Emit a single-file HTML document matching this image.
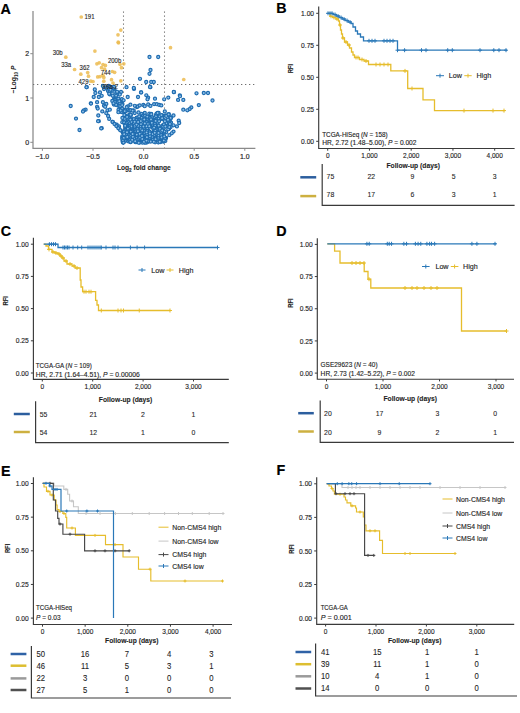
<!DOCTYPE html>
<html><head><meta charset="utf-8"><style>
html,body{margin:0;padding:0;background:#fff;width:520px;height:713px;overflow:hidden}
svg{display:block;font-family:"Liberation Sans", sans-serif}
</style></head><body>
<svg width="520" height="713" viewBox="0 0 520 713">
<rect width="520" height="713" fill="#fff"/>
<text x="0.60" y="13.80" font-size="14.3" text-anchor="start" font-weight="bold" fill="#000" stroke="#000" stroke-width="0.18" textLength="10.33" lengthAdjust="spacingAndGlyphs" >A</text>
<path d="M33,11 V148.3 H255.4" fill="none" stroke="#8a8a8a" stroke-width="1.25"/>
<line x1="30.3" y1="142.3" x2="33" y2="142.3" stroke="#8a8a8a" stroke-width="1" />
<text x="29.20" y="144.90" font-size="7.4" text-anchor="end" fill="#1e1e1e" stroke="#1e1e1e" stroke-width="0.18" textLength="3.91" lengthAdjust="spacingAndGlyphs" >0</text>
<line x1="30.3" y1="98.00000000000001" x2="33" y2="98.00000000000001" stroke="#8a8a8a" stroke-width="1" />
<text x="29.20" y="100.60" font-size="7.4" text-anchor="end" fill="#1e1e1e" stroke="#1e1e1e" stroke-width="0.18" textLength="3.91" lengthAdjust="spacingAndGlyphs" >1</text>
<line x1="30.3" y1="53.70000000000002" x2="33" y2="53.70000000000002" stroke="#8a8a8a" stroke-width="1" />
<text x="29.20" y="56.30" font-size="7.4" text-anchor="end" fill="#1e1e1e" stroke="#1e1e1e" stroke-width="0.18" textLength="3.91" lengthAdjust="spacingAndGlyphs" >2</text>
<line x1="42.39999999999999" y1="148.3" x2="42.39999999999999" y2="150.8" stroke="#8a8a8a" stroke-width="1" />
<text x="42.40" y="158.70" font-size="7.4" text-anchor="middle" fill="#1e1e1e" stroke="#1e1e1e" stroke-width="0.18" textLength="13.59" lengthAdjust="spacingAndGlyphs" >−1.0</text>
<line x1="93.0" y1="148.3" x2="93.0" y2="150.8" stroke="#8a8a8a" stroke-width="1" />
<text x="93.00" y="158.70" font-size="7.4" text-anchor="middle" fill="#1e1e1e" stroke="#1e1e1e" stroke-width="0.18" textLength="13.59" lengthAdjust="spacingAndGlyphs" >−0.5</text>
<line x1="143.6" y1="148.3" x2="143.6" y2="150.8" stroke="#8a8a8a" stroke-width="1" />
<text x="143.60" y="158.70" font-size="7.4" text-anchor="middle" fill="#1e1e1e" stroke="#1e1e1e" stroke-width="0.18" textLength="9.57" lengthAdjust="spacingAndGlyphs" >0.0</text>
<line x1="194.2" y1="148.3" x2="194.2" y2="150.8" stroke="#8a8a8a" stroke-width="1" />
<text x="194.20" y="158.70" font-size="7.4" text-anchor="middle" fill="#1e1e1e" stroke="#1e1e1e" stroke-width="0.18" textLength="9.57" lengthAdjust="spacingAndGlyphs" >0.5</text>
<line x1="244.8" y1="148.3" x2="244.8" y2="150.8" stroke="#8a8a8a" stroke-width="1" />
<text x="244.80" y="158.70" font-size="7.4" text-anchor="middle" fill="#1e1e1e" stroke="#1e1e1e" stroke-width="0.18" textLength="9.57" lengthAdjust="spacingAndGlyphs" >1.0</text>
<text font-size="8.1" font-weight="bold" fill="#1e1e1e" stroke="#1e1e1e" stroke-width="0.1" text-anchor="middle" x="143.8" y="170.1" textLength="53.8" lengthAdjust="spacingAndGlyphs">Log<tspan font-size="5.6" dy="1.7">2</tspan><tspan dy="-1.7"> fold change</tspan></text>
<text font-size="7.6" font-weight="bold" fill="#1e1e1e" text-anchor="middle" transform="translate(16.4,79.5) rotate(-90)" textLength="28" lengthAdjust="spacingAndGlyphs">−Log<tspan font-size="5.2" dy="1.6">10</tspan><tspan dy="-1.6"> </tspan><tspan font-style="italic">P</tspan></text>
<line x1="33" y1="84.5" x2="255" y2="84.5" stroke="#6f6f6f" stroke-width="1.05" stroke-dasharray="1.3,2.7"/>
<line x1="123.5" y1="11.5" x2="123.5" y2="148" stroke="#6f6f6f" stroke-width="1.05" stroke-dasharray="1.3,2.7"/>
<line x1="164.5" y1="11.5" x2="164.5" y2="148" stroke="#6f6f6f" stroke-width="1.05" stroke-dasharray="1.3,2.7"/>
<circle cx="81.25" cy="17" r="1.85" fill="#ECBB50" fill-opacity="0.85"/>
<circle cx="120.8" cy="30.1" r="1.85" fill="#ECBB50" fill-opacity="0.85"/>
<circle cx="118" cy="34.8" r="1.85" fill="#ECBB50" fill-opacity="0.85"/>
<circle cx="118.2" cy="42.2" r="1.85" fill="#ECBB50" fill-opacity="0.85"/>
<circle cx="170.5" cy="47.7" r="1.85" fill="#ECBB50" fill-opacity="0.85"/>
<circle cx="183.75" cy="79.5" r="1.85" fill="#ECBB50" fill-opacity="0.85"/>
<circle cx="118.5" cy="42.8" r="1.85" fill="#ECBB50" fill-opacity="0.85"/>
<circle cx="94.9" cy="51.1" r="1.85" fill="#ECBB50" fill-opacity="0.85"/>
<circle cx="65.8" cy="57.2" r="1.85" fill="#ECBB50" fill-opacity="0.85"/>
<circle cx="74.6" cy="69.5" r="1.85" fill="#ECBB50" fill-opacity="0.85"/>
<circle cx="80.8" cy="74.2" r="1.85" fill="#ECBB50" fill-opacity="0.85"/>
<circle cx="87.7" cy="72.6" r="1.85" fill="#ECBB50" fill-opacity="0.85"/>
<circle cx="88.5" cy="76.2" r="1.85" fill="#ECBB50" fill-opacity="0.85"/>
<circle cx="96.9" cy="63.8" r="1.85" fill="#ECBB50" fill-opacity="0.85"/>
<circle cx="99.2" cy="62.8" r="1.85" fill="#ECBB50" fill-opacity="0.85"/>
<circle cx="103" cy="64.6" r="1.85" fill="#ECBB50" fill-opacity="0.85"/>
<circle cx="105.4" cy="65.4" r="1.85" fill="#ECBB50" fill-opacity="0.85"/>
<circle cx="101.5" cy="67.7" r="1.85" fill="#ECBB50" fill-opacity="0.85"/>
<circle cx="104.6" cy="69.2" r="1.85" fill="#ECBB50" fill-opacity="0.85"/>
<circle cx="97.7" cy="76.9" r="1.85" fill="#ECBB50" fill-opacity="0.85"/>
<circle cx="100" cy="76.6" r="1.85" fill="#ECBB50" fill-opacity="0.85"/>
<circle cx="103" cy="75.4" r="1.85" fill="#ECBB50" fill-opacity="0.85"/>
<circle cx="103.8" cy="77.4" r="1.85" fill="#ECBB50" fill-opacity="0.85"/>
<circle cx="112.3" cy="71.5" r="1.85" fill="#ECBB50" fill-opacity="0.85"/>
<circle cx="114.6" cy="72.3" r="1.85" fill="#ECBB50" fill-opacity="0.85"/>
<circle cx="120" cy="64.3" r="1.85" fill="#ECBB50" fill-opacity="0.85"/>
<circle cx="121.5" cy="67.7" r="1.85" fill="#ECBB50" fill-opacity="0.85"/>
<circle cx="123.8" cy="63.8" r="1.85" fill="#ECBB50" fill-opacity="0.85"/>
<circle cx="90.8" cy="81.2" r="1.85" fill="#ECBB50" fill-opacity="0.85"/>
<circle cx="93" cy="81.5" r="1.85" fill="#ECBB50" fill-opacity="0.85"/>
<circle cx="103.8" cy="81.2" r="1.85" fill="#ECBB50" fill-opacity="0.85"/>
<circle cx="111.5" cy="79.7" r="1.85" fill="#ECBB50" fill-opacity="0.85"/>
<circle cx="113" cy="83" r="1.85" fill="#ECBB50" fill-opacity="0.85"/>
<circle cx="120.8" cy="80.8" r="1.85" fill="#ECBB50" fill-opacity="0.85"/>
<circle cx="86.7" cy="87.2" r="1.55" fill="#8fc0e8" stroke="#1f6cb0" stroke-width="1.2"/>
<circle cx="94.8" cy="89.5" r="1.55" fill="#8fc0e8" stroke="#1f6cb0" stroke-width="1.2"/>
<circle cx="95.4" cy="93.0" r="1.55" fill="#8fc0e8" stroke="#1f6cb0" stroke-width="1.2"/>
<circle cx="100.0" cy="92.4" r="1.55" fill="#8fc0e8" stroke="#1f6cb0" stroke-width="1.2"/>
<circle cx="93.7" cy="97.0" r="1.55" fill="#8fc0e8" stroke="#1f6cb0" stroke-width="1.2"/>
<circle cx="98.8" cy="97.0" r="1.55" fill="#8fc0e8" stroke="#1f6cb0" stroke-width="1.2"/>
<circle cx="101.7" cy="95.8" r="1.55" fill="#8fc0e8" stroke="#1f6cb0" stroke-width="1.2"/>
<circle cx="90.8" cy="103.3" r="1.55" fill="#8fc0e8" stroke="#1f6cb0" stroke-width="1.2"/>
<circle cx="97.1" cy="102.2" r="1.55" fill="#8fc0e8" stroke="#1f6cb0" stroke-width="1.2"/>
<circle cx="102.9" cy="102.2" r="1.55" fill="#8fc0e8" stroke="#1f6cb0" stroke-width="1.2"/>
<circle cx="106.3" cy="103.9" r="1.55" fill="#8fc0e8" stroke="#1f6cb0" stroke-width="1.2"/>
<circle cx="97.1" cy="106.8" r="1.55" fill="#8fc0e8" stroke="#1f6cb0" stroke-width="1.2"/>
<circle cx="97.7" cy="108.5" r="1.55" fill="#8fc0e8" stroke="#1f6cb0" stroke-width="1.2"/>
<circle cx="104.0" cy="105.7" r="1.55" fill="#8fc0e8" stroke="#1f6cb0" stroke-width="1.2"/>
<circle cx="105.2" cy="106.8" r="1.55" fill="#8fc0e8" stroke="#1f6cb0" stroke-width="1.2"/>
<circle cx="102.3" cy="111.4" r="1.55" fill="#8fc0e8" stroke="#1f6cb0" stroke-width="1.2"/>
<circle cx="107.5" cy="110.3" r="1.55" fill="#8fc0e8" stroke="#1f6cb0" stroke-width="1.2"/>
<circle cx="109.8" cy="109.7" r="1.55" fill="#8fc0e8" stroke="#1f6cb0" stroke-width="1.2"/>
<circle cx="106.3" cy="113.2" r="1.55" fill="#8fc0e8" stroke="#1f6cb0" stroke-width="1.2"/>
<circle cx="98.3" cy="115.5" r="1.55" fill="#8fc0e8" stroke="#1f6cb0" stroke-width="1.2"/>
<circle cx="108.1" cy="116.0" r="1.55" fill="#8fc0e8" stroke="#1f6cb0" stroke-width="1.2"/>
<circle cx="98.8" cy="121.2" r="1.55" fill="#8fc0e8" stroke="#1f6cb0" stroke-width="1.2"/>
<circle cx="109.2" cy="118.9" r="1.55" fill="#8fc0e8" stroke="#1f6cb0" stroke-width="1.2"/>
<circle cx="112.7" cy="121.8" r="1.55" fill="#8fc0e8" stroke="#1f6cb0" stroke-width="1.2"/>
<circle cx="116.7" cy="124.7" r="1.55" fill="#8fc0e8" stroke="#1f6cb0" stroke-width="1.2"/>
<circle cx="119.0" cy="126.4" r="1.55" fill="#8fc0e8" stroke="#1f6cb0" stroke-width="1.2"/>
<circle cx="119.6" cy="129.3" r="1.55" fill="#8fc0e8" stroke="#1f6cb0" stroke-width="1.2"/>
<circle cx="101.7" cy="128.2" r="1.55" fill="#8fc0e8" stroke="#1f6cb0" stroke-width="1.2"/>
<circle cx="102.9" cy="86.0" r="1.55" fill="#8fc0e8" stroke="#1f6cb0" stroke-width="1.2"/>
<circle cx="126.5" cy="87.2" r="1.55" fill="#8fc0e8" stroke="#1f6cb0" stroke-width="1.2"/>
<circle cx="134.0" cy="88.9" r="1.55" fill="#8fc0e8" stroke="#1f6cb0" stroke-width="1.2"/>
<circle cx="141.0" cy="92.4" r="1.55" fill="#8fc0e8" stroke="#1f6cb0" stroke-width="1.2"/>
<circle cx="127.7" cy="97.0" r="1.55" fill="#8fc0e8" stroke="#1f6cb0" stroke-width="1.2"/>
<circle cx="138.0" cy="97.0" r="1.55" fill="#8fc0e8" stroke="#1f6cb0" stroke-width="1.2"/>
<circle cx="85.6" cy="109.7" r="1.55" fill="#8fc0e8" stroke="#1f6cb0" stroke-width="1.2"/>
<circle cx="150.4" cy="87.2" r="1.55" fill="#8fc0e8" stroke="#1f6cb0" stroke-width="1.2"/>
<circle cx="141.2" cy="92.4" r="1.55" fill="#8fc0e8" stroke="#1f6cb0" stroke-width="1.2"/>
<circle cx="146.3" cy="95.3" r="1.55" fill="#8fc0e8" stroke="#1f6cb0" stroke-width="1.2"/>
<circle cx="148.1" cy="97.6" r="1.55" fill="#8fc0e8" stroke="#1f6cb0" stroke-width="1.2"/>
<circle cx="147.5" cy="99.3" r="1.55" fill="#8fc0e8" stroke="#1f6cb0" stroke-width="1.2"/>
<circle cx="155.0" cy="98.7" r="1.55" fill="#8fc0e8" stroke="#1f6cb0" stroke-width="1.2"/>
<circle cx="164.2" cy="99.3" r="1.55" fill="#8fc0e8" stroke="#1f6cb0" stroke-width="1.2"/>
<circle cx="168.3" cy="97.6" r="1.55" fill="#8fc0e8" stroke="#1f6cb0" stroke-width="1.2"/>
<circle cx="174.0" cy="92.2" r="1.55" fill="#8fc0e8" stroke="#1f6cb0" stroke-width="1.2"/>
<circle cx="179.8" cy="95.3" r="1.55" fill="#8fc0e8" stroke="#1f6cb0" stroke-width="1.2"/>
<circle cx="178.1" cy="99.9" r="1.55" fill="#8fc0e8" stroke="#1f6cb0" stroke-width="1.2"/>
<circle cx="183.3" cy="99.9" r="1.55" fill="#8fc0e8" stroke="#1f6cb0" stroke-width="1.2"/>
<circle cx="196.5" cy="93.3" r="1.55" fill="#8fc0e8" stroke="#1f6cb0" stroke-width="1.2"/>
<circle cx="203.8" cy="93.0" r="1.55" fill="#8fc0e8" stroke="#1f6cb0" stroke-width="1.2"/>
<circle cx="208.0" cy="93.0" r="1.55" fill="#8fc0e8" stroke="#1f6cb0" stroke-width="1.2"/>
<circle cx="212.5" cy="100.5" r="1.55" fill="#8fc0e8" stroke="#1f6cb0" stroke-width="1.2"/>
<circle cx="198.8" cy="105.1" r="1.55" fill="#8fc0e8" stroke="#1f6cb0" stroke-width="1.2"/>
<circle cx="191.3" cy="107.4" r="1.55" fill="#8fc0e8" stroke="#1f6cb0" stroke-width="1.2"/>
<circle cx="189.6" cy="109.1" r="1.55" fill="#8fc0e8" stroke="#1f6cb0" stroke-width="1.2"/>
<circle cx="187.3" cy="110.3" r="1.55" fill="#8fc0e8" stroke="#1f6cb0" stroke-width="1.2"/>
<circle cx="183.3" cy="109.7" r="1.55" fill="#8fc0e8" stroke="#1f6cb0" stroke-width="1.2"/>
<circle cx="164.8" cy="111.4" r="1.55" fill="#8fc0e8" stroke="#1f6cb0" stroke-width="1.2"/>
<circle cx="173.5" cy="115.5" r="1.55" fill="#8fc0e8" stroke="#1f6cb0" stroke-width="1.2"/>
<circle cx="178.7" cy="120.7" r="1.55" fill="#8fc0e8" stroke="#1f6cb0" stroke-width="1.2"/>
<circle cx="179.2" cy="123.0" r="1.55" fill="#8fc0e8" stroke="#1f6cb0" stroke-width="1.2"/>
<circle cx="176.9" cy="126.4" r="1.55" fill="#8fc0e8" stroke="#1f6cb0" stroke-width="1.2"/>
<circle cx="173.5" cy="125.3" r="1.55" fill="#8fc0e8" stroke="#1f6cb0" stroke-width="1.2"/>
<circle cx="170.6" cy="127.0" r="1.55" fill="#8fc0e8" stroke="#1f6cb0" stroke-width="1.2"/>
<circle cx="173.5" cy="131.6" r="1.55" fill="#8fc0e8" stroke="#1f6cb0" stroke-width="1.2"/>
<circle cx="171.7" cy="133.3" r="1.55" fill="#8fc0e8" stroke="#1f6cb0" stroke-width="1.2"/>
<circle cx="169.4" cy="135.1" r="1.55" fill="#8fc0e8" stroke="#1f6cb0" stroke-width="1.2"/>
<circle cx="70.7" cy="106.0" r="1.55" fill="#8fc0e8" stroke="#1f6cb0" stroke-width="1.2"/>
<circle cx="83.9" cy="110.3" r="1.55" fill="#8fc0e8" stroke="#1f6cb0" stroke-width="1.2"/>
<circle cx="83.0" cy="111.5" r="1.55" fill="#8fc0e8" stroke="#1f6cb0" stroke-width="1.2"/>
<circle cx="76.0" cy="118.6" r="1.55" fill="#8fc0e8" stroke="#1f6cb0" stroke-width="1.2"/>
<circle cx="79.5" cy="130.0" r="1.55" fill="#8fc0e8" stroke="#1f6cb0" stroke-width="1.2"/>
<circle cx="101.2" cy="128.4" r="1.55" fill="#8fc0e8" stroke="#1f6cb0" stroke-width="1.2"/>
<circle cx="98.1" cy="121.2" r="1.55" fill="#8fc0e8" stroke="#1f6cb0" stroke-width="1.2"/>
<circle cx="91.0" cy="103.6" r="1.55" fill="#8fc0e8" stroke="#1f6cb0" stroke-width="1.2"/>
<circle cx="86.5" cy="87.2" r="1.55" fill="#8fc0e8" stroke="#1f6cb0" stroke-width="1.2"/>
<circle cx="149.5" cy="57.0" r="1.55" fill="#8fc0e8" stroke="#1f6cb0" stroke-width="1.2"/>
<circle cx="158.2" cy="57.0" r="1.55" fill="#8fc0e8" stroke="#1f6cb0" stroke-width="1.2"/>
<circle cx="150.5" cy="70.0" r="1.55" fill="#8fc0e8" stroke="#1f6cb0" stroke-width="1.2"/>
<circle cx="149.5" cy="73.8" r="1.55" fill="#8fc0e8" stroke="#1f6cb0" stroke-width="1.2"/>
<circle cx="140.0" cy="78.8" r="1.55" fill="#8fc0e8" stroke="#1f6cb0" stroke-width="1.2"/>
<circle cx="146.2" cy="82.0" r="1.55" fill="#8fc0e8" stroke="#1f6cb0" stroke-width="1.2"/>
<circle cx="151.2" cy="82.0" r="1.55" fill="#8fc0e8" stroke="#1f6cb0" stroke-width="1.2"/>
<circle cx="153.8" cy="82.0" r="1.55" fill="#8fc0e8" stroke="#1f6cb0" stroke-width="1.2"/>
<circle cx="150.0" cy="87.0" r="1.55" fill="#8fc0e8" stroke="#1f6cb0" stroke-width="1.2"/>
<circle cx="133.8" cy="88.0" r="1.55" fill="#8fc0e8" stroke="#1f6cb0" stroke-width="1.2"/>
<circle cx="180.0" cy="96.2" r="1.55" fill="#8fc0e8" stroke="#1f6cb0" stroke-width="1.2"/>
<circle cx="173.8" cy="92.0" r="1.55" fill="#8fc0e8" stroke="#1f6cb0" stroke-width="1.2"/>
<circle cx="104.0" cy="89.0" r="1.55" fill="#8fc0e8" stroke="#1f6cb0" stroke-width="1.2"/>
<circle cx="108.0" cy="90.5" r="1.55" fill="#8fc0e8" stroke="#1f6cb0" stroke-width="1.2"/>
<circle cx="115.0" cy="91.0" r="1.55" fill="#8fc0e8" stroke="#1f6cb0" stroke-width="1.2"/>
<circle cx="121.0" cy="92.0" r="1.55" fill="#8fc0e8" stroke="#1f6cb0" stroke-width="1.2"/>
<circle cx="114.1" cy="98.1" r="1.55" fill="#8fc0e8" stroke="#1f6cb0" stroke-width="1.2"/>
<circle cx="115.1" cy="98.7" r="1.55" fill="#8fc0e8" stroke="#1f6cb0" stroke-width="1.2"/>
<circle cx="117.3" cy="103.3" r="1.55" fill="#8fc0e8" stroke="#1f6cb0" stroke-width="1.2"/>
<circle cx="117.8" cy="99.4" r="1.55" fill="#8fc0e8" stroke="#1f6cb0" stroke-width="1.2"/>
<circle cx="108.8" cy="85.8" r="1.55" fill="#8fc0e8" stroke="#1f6cb0" stroke-width="1.2"/>
<circle cx="109.4" cy="90.9" r="1.55" fill="#8fc0e8" stroke="#1f6cb0" stroke-width="1.2"/>
<circle cx="113.9" cy="104.5" r="1.55" fill="#8fc0e8" stroke="#1f6cb0" stroke-width="1.2"/>
<circle cx="115.3" cy="99.9" r="1.55" fill="#8fc0e8" stroke="#1f6cb0" stroke-width="1.2"/>
<circle cx="115.0" cy="100.4" r="1.55" fill="#8fc0e8" stroke="#1f6cb0" stroke-width="1.2"/>
<circle cx="114.2" cy="91.8" r="1.55" fill="#8fc0e8" stroke="#1f6cb0" stroke-width="1.2"/>
<circle cx="121.1" cy="101.4" r="1.55" fill="#8fc0e8" stroke="#1f6cb0" stroke-width="1.2"/>
<circle cx="111.7" cy="90.7" r="1.55" fill="#8fc0e8" stroke="#1f6cb0" stroke-width="1.2"/>
<circle cx="111.2" cy="87.1" r="1.55" fill="#8fc0e8" stroke="#1f6cb0" stroke-width="1.2"/>
<circle cx="119.8" cy="94.5" r="1.55" fill="#8fc0e8" stroke="#1f6cb0" stroke-width="1.2"/>
<circle cx="108.1" cy="91.0" r="1.55" fill="#8fc0e8" stroke="#1f6cb0" stroke-width="1.2"/>
<circle cx="107.8" cy="86.8" r="1.55" fill="#8fc0e8" stroke="#1f6cb0" stroke-width="1.2"/>
<circle cx="116.1" cy="95.6" r="1.55" fill="#8fc0e8" stroke="#1f6cb0" stroke-width="1.2"/>
<circle cx="109.8" cy="91.6" r="1.55" fill="#8fc0e8" stroke="#1f6cb0" stroke-width="1.2"/>
<circle cx="109.8" cy="94.4" r="1.55" fill="#8fc0e8" stroke="#1f6cb0" stroke-width="1.2"/>
<circle cx="121.4" cy="99.9" r="1.55" fill="#8fc0e8" stroke="#1f6cb0" stroke-width="1.2"/>
<circle cx="109.8" cy="91.3" r="1.55" fill="#8fc0e8" stroke="#1f6cb0" stroke-width="1.2"/>
<circle cx="111.3" cy="87.2" r="1.55" fill="#8fc0e8" stroke="#1f6cb0" stroke-width="1.2"/>
<circle cx="112.7" cy="95.7" r="1.55" fill="#8fc0e8" stroke="#1f6cb0" stroke-width="1.2"/>
<circle cx="116.3" cy="105.0" r="1.55" fill="#8fc0e8" stroke="#1f6cb0" stroke-width="1.2"/>
<circle cx="109.3" cy="89.0" r="1.55" fill="#8fc0e8" stroke="#1f6cb0" stroke-width="1.2"/>
<circle cx="122.4" cy="103.9" r="1.55" fill="#8fc0e8" stroke="#1f6cb0" stroke-width="1.2"/>
<circle cx="110.5" cy="89.8" r="1.55" fill="#8fc0e8" stroke="#1f6cb0" stroke-width="1.2"/>
<circle cx="119.3" cy="106.7" r="1.55" fill="#8fc0e8" stroke="#1f6cb0" stroke-width="1.2"/>
<circle cx="121.9" cy="99.1" r="1.55" fill="#8fc0e8" stroke="#1f6cb0" stroke-width="1.2"/>
<circle cx="113.6" cy="87.8" r="1.55" fill="#8fc0e8" stroke="#1f6cb0" stroke-width="1.2"/>
<circle cx="116.7" cy="92.1" r="1.55" fill="#8fc0e8" stroke="#1f6cb0" stroke-width="1.2"/>
<circle cx="116.1" cy="104.7" r="1.55" fill="#8fc0e8" stroke="#1f6cb0" stroke-width="1.2"/>
<circle cx="117.1" cy="91.8" r="1.55" fill="#8fc0e8" stroke="#1f6cb0" stroke-width="1.2"/>
<circle cx="114.0" cy="86.9" r="1.55" fill="#8fc0e8" stroke="#1f6cb0" stroke-width="1.2"/>
<circle cx="109.2" cy="93.8" r="1.55" fill="#8fc0e8" stroke="#1f6cb0" stroke-width="1.2"/>
<circle cx="123.6" cy="100.3" r="1.55" fill="#8fc0e8" stroke="#1f6cb0" stroke-width="1.2"/>
<circle cx="118.4" cy="98.6" r="1.55" fill="#8fc0e8" stroke="#1f6cb0" stroke-width="1.2"/>
<circle cx="108.5" cy="86.3" r="1.55" fill="#8fc0e8" stroke="#1f6cb0" stroke-width="1.2"/>
<circle cx="114.7" cy="101.9" r="1.55" fill="#8fc0e8" stroke="#1f6cb0" stroke-width="1.2"/>
<circle cx="119.3" cy="105.8" r="1.55" fill="#8fc0e8" stroke="#1f6cb0" stroke-width="1.2"/>
<circle cx="119.3" cy="101.3" r="1.55" fill="#8fc0e8" stroke="#1f6cb0" stroke-width="1.2"/>
<circle cx="120.3" cy="106.1" r="1.55" fill="#8fc0e8" stroke="#1f6cb0" stroke-width="1.2"/>
<circle cx="112.3" cy="100.9" r="1.55" fill="#8fc0e8" stroke="#1f6cb0" stroke-width="1.2"/>
<circle cx="122.2" cy="105.1" r="1.55" fill="#8fc0e8" stroke="#1f6cb0" stroke-width="1.2"/>
<circle cx="113.5" cy="103.3" r="1.55" fill="#8fc0e8" stroke="#1f6cb0" stroke-width="1.2"/>
<circle cx="126.2" cy="139.2" r="1.55" fill="#8fc0e8" stroke="#1f6cb0" stroke-width="1.2"/>
<circle cx="141.1" cy="138.7" r="1.55" fill="#8fc0e8" stroke="#1f6cb0" stroke-width="1.2"/>
<circle cx="162.6" cy="136.9" r="1.55" fill="#8fc0e8" stroke="#1f6cb0" stroke-width="1.2"/>
<circle cx="168.8" cy="114.1" r="1.55" fill="#8fc0e8" stroke="#1f6cb0" stroke-width="1.2"/>
<circle cx="141.6" cy="114.0" r="1.55" fill="#8fc0e8" stroke="#1f6cb0" stroke-width="1.2"/>
<circle cx="139.6" cy="128.0" r="1.55" fill="#8fc0e8" stroke="#1f6cb0" stroke-width="1.2"/>
<circle cx="160.4" cy="140.8" r="1.55" fill="#8fc0e8" stroke="#1f6cb0" stroke-width="1.2"/>
<circle cx="156.3" cy="135.7" r="1.55" fill="#8fc0e8" stroke="#1f6cb0" stroke-width="1.2"/>
<circle cx="134.5" cy="139.4" r="1.55" fill="#8fc0e8" stroke="#1f6cb0" stroke-width="1.2"/>
<circle cx="147.0" cy="133.7" r="1.55" fill="#8fc0e8" stroke="#1f6cb0" stroke-width="1.2"/>
<circle cx="156.4" cy="136.6" r="1.55" fill="#8fc0e8" stroke="#1f6cb0" stroke-width="1.2"/>
<circle cx="132.8" cy="132.2" r="1.55" fill="#8fc0e8" stroke="#1f6cb0" stroke-width="1.2"/>
<circle cx="145.5" cy="136.7" r="1.55" fill="#8fc0e8" stroke="#1f6cb0" stroke-width="1.2"/>
<circle cx="163.4" cy="141.7" r="1.55" fill="#8fc0e8" stroke="#1f6cb0" stroke-width="1.2"/>
<circle cx="139.6" cy="141.3" r="1.55" fill="#8fc0e8" stroke="#1f6cb0" stroke-width="1.2"/>
<circle cx="131.7" cy="121.9" r="1.55" fill="#8fc0e8" stroke="#1f6cb0" stroke-width="1.2"/>
<circle cx="143.0" cy="115.7" r="1.55" fill="#8fc0e8" stroke="#1f6cb0" stroke-width="1.2"/>
<circle cx="150.7" cy="140.0" r="1.55" fill="#8fc0e8" stroke="#1f6cb0" stroke-width="1.2"/>
<circle cx="122.7" cy="132.2" r="1.55" fill="#8fc0e8" stroke="#1f6cb0" stroke-width="1.2"/>
<circle cx="144.8" cy="113.0" r="1.55" fill="#8fc0e8" stroke="#1f6cb0" stroke-width="1.2"/>
<circle cx="145.9" cy="120.5" r="1.55" fill="#8fc0e8" stroke="#1f6cb0" stroke-width="1.2"/>
<circle cx="139.5" cy="124.2" r="1.55" fill="#8fc0e8" stroke="#1f6cb0" stroke-width="1.2"/>
<circle cx="145.9" cy="137.1" r="1.55" fill="#8fc0e8" stroke="#1f6cb0" stroke-width="1.2"/>
<circle cx="130.0" cy="132.1" r="1.55" fill="#8fc0e8" stroke="#1f6cb0" stroke-width="1.2"/>
<circle cx="122.3" cy="136.3" r="1.55" fill="#8fc0e8" stroke="#1f6cb0" stroke-width="1.2"/>
<circle cx="139.0" cy="130.4" r="1.55" fill="#8fc0e8" stroke="#1f6cb0" stroke-width="1.2"/>
<circle cx="144.6" cy="133.3" r="1.55" fill="#8fc0e8" stroke="#1f6cb0" stroke-width="1.2"/>
<circle cx="145.1" cy="125.7" r="1.55" fill="#8fc0e8" stroke="#1f6cb0" stroke-width="1.2"/>
<circle cx="140.4" cy="127.0" r="1.55" fill="#8fc0e8" stroke="#1f6cb0" stroke-width="1.2"/>
<circle cx="155.2" cy="136.8" r="1.55" fill="#8fc0e8" stroke="#1f6cb0" stroke-width="1.2"/>
<circle cx="141.7" cy="132.6" r="1.55" fill="#8fc0e8" stroke="#1f6cb0" stroke-width="1.2"/>
<circle cx="144.5" cy="142.3" r="1.55" fill="#8fc0e8" stroke="#1f6cb0" stroke-width="1.2"/>
<circle cx="131.1" cy="139.5" r="1.55" fill="#8fc0e8" stroke="#1f6cb0" stroke-width="1.2"/>
<circle cx="159.4" cy="135.6" r="1.55" fill="#8fc0e8" stroke="#1f6cb0" stroke-width="1.2"/>
<circle cx="165.9" cy="138.2" r="1.55" fill="#8fc0e8" stroke="#1f6cb0" stroke-width="1.2"/>
<circle cx="158.8" cy="133.6" r="1.55" fill="#8fc0e8" stroke="#1f6cb0" stroke-width="1.2"/>
<circle cx="135.6" cy="121.8" r="1.55" fill="#8fc0e8" stroke="#1f6cb0" stroke-width="1.2"/>
<circle cx="136.4" cy="128.5" r="1.55" fill="#8fc0e8" stroke="#1f6cb0" stroke-width="1.2"/>
<circle cx="129.6" cy="140.8" r="1.55" fill="#8fc0e8" stroke="#1f6cb0" stroke-width="1.2"/>
<circle cx="135.4" cy="129.4" r="1.55" fill="#8fc0e8" stroke="#1f6cb0" stroke-width="1.2"/>
<circle cx="150.5" cy="132.6" r="1.55" fill="#8fc0e8" stroke="#1f6cb0" stroke-width="1.2"/>
<circle cx="127.7" cy="118.0" r="1.55" fill="#8fc0e8" stroke="#1f6cb0" stroke-width="1.2"/>
<circle cx="130.7" cy="139.2" r="1.55" fill="#8fc0e8" stroke="#1f6cb0" stroke-width="1.2"/>
<circle cx="144.7" cy="141.7" r="1.55" fill="#8fc0e8" stroke="#1f6cb0" stroke-width="1.2"/>
<circle cx="149.6" cy="133.4" r="1.55" fill="#8fc0e8" stroke="#1f6cb0" stroke-width="1.2"/>
<circle cx="144.0" cy="127.4" r="1.55" fill="#8fc0e8" stroke="#1f6cb0" stroke-width="1.2"/>
<circle cx="149.6" cy="117.6" r="1.55" fill="#8fc0e8" stroke="#1f6cb0" stroke-width="1.2"/>
<circle cx="152.7" cy="125.4" r="1.55" fill="#8fc0e8" stroke="#1f6cb0" stroke-width="1.2"/>
<circle cx="156.1" cy="114.8" r="1.55" fill="#8fc0e8" stroke="#1f6cb0" stroke-width="1.2"/>
<circle cx="130.4" cy="104.7" r="1.55" fill="#8fc0e8" stroke="#1f6cb0" stroke-width="1.2"/>
<circle cx="161.5" cy="127.1" r="1.55" fill="#8fc0e8" stroke="#1f6cb0" stroke-width="1.2"/>
<circle cx="151.0" cy="121.2" r="1.55" fill="#8fc0e8" stroke="#1f6cb0" stroke-width="1.2"/>
<circle cx="139.9" cy="134.1" r="1.55" fill="#8fc0e8" stroke="#1f6cb0" stroke-width="1.2"/>
<circle cx="123.2" cy="138.7" r="1.55" fill="#8fc0e8" stroke="#1f6cb0" stroke-width="1.2"/>
<circle cx="151.1" cy="117.4" r="1.55" fill="#8fc0e8" stroke="#1f6cb0" stroke-width="1.2"/>
<circle cx="151.5" cy="133.1" r="1.55" fill="#8fc0e8" stroke="#1f6cb0" stroke-width="1.2"/>
<circle cx="130.6" cy="142.2" r="1.55" fill="#8fc0e8" stroke="#1f6cb0" stroke-width="1.2"/>
<circle cx="147.0" cy="128.2" r="1.55" fill="#8fc0e8" stroke="#1f6cb0" stroke-width="1.2"/>
<circle cx="151.0" cy="133.8" r="1.55" fill="#8fc0e8" stroke="#1f6cb0" stroke-width="1.2"/>
<circle cx="167.2" cy="120.1" r="1.55" fill="#8fc0e8" stroke="#1f6cb0" stroke-width="1.2"/>
<circle cx="122.3" cy="138.0" r="1.55" fill="#8fc0e8" stroke="#1f6cb0" stroke-width="1.2"/>
<circle cx="143.4" cy="130.4" r="1.55" fill="#8fc0e8" stroke="#1f6cb0" stroke-width="1.2"/>
<circle cx="128.6" cy="129.5" r="1.55" fill="#8fc0e8" stroke="#1f6cb0" stroke-width="1.2"/>
<circle cx="133.6" cy="132.0" r="1.55" fill="#8fc0e8" stroke="#1f6cb0" stroke-width="1.2"/>
<circle cx="156.6" cy="117.7" r="1.55" fill="#8fc0e8" stroke="#1f6cb0" stroke-width="1.2"/>
<circle cx="140.9" cy="135.1" r="1.55" fill="#8fc0e8" stroke="#1f6cb0" stroke-width="1.2"/>
<circle cx="136.7" cy="117.6" r="1.55" fill="#8fc0e8" stroke="#1f6cb0" stroke-width="1.2"/>
<circle cx="138.6" cy="118.5" r="1.55" fill="#8fc0e8" stroke="#1f6cb0" stroke-width="1.2"/>
<circle cx="147.7" cy="134.9" r="1.55" fill="#8fc0e8" stroke="#1f6cb0" stroke-width="1.2"/>
<circle cx="162.6" cy="125.5" r="1.55" fill="#8fc0e8" stroke="#1f6cb0" stroke-width="1.2"/>
<circle cx="158.4" cy="138.2" r="1.55" fill="#8fc0e8" stroke="#1f6cb0" stroke-width="1.2"/>
<circle cx="152.5" cy="135.2" r="1.55" fill="#8fc0e8" stroke="#1f6cb0" stroke-width="1.2"/>
<circle cx="146.8" cy="134.5" r="1.55" fill="#8fc0e8" stroke="#1f6cb0" stroke-width="1.2"/>
<circle cx="157.6" cy="129.0" r="1.55" fill="#8fc0e8" stroke="#1f6cb0" stroke-width="1.2"/>
<circle cx="129.0" cy="133.6" r="1.55" fill="#8fc0e8" stroke="#1f6cb0" stroke-width="1.2"/>
<circle cx="158.7" cy="118.8" r="1.55" fill="#8fc0e8" stroke="#1f6cb0" stroke-width="1.2"/>
<circle cx="155.6" cy="139.6" r="1.55" fill="#8fc0e8" stroke="#1f6cb0" stroke-width="1.2"/>
<circle cx="169.2" cy="128.6" r="1.55" fill="#8fc0e8" stroke="#1f6cb0" stroke-width="1.2"/>
<circle cx="155.7" cy="135.1" r="1.55" fill="#8fc0e8" stroke="#1f6cb0" stroke-width="1.2"/>
<circle cx="171.0" cy="118.0" r="1.55" fill="#8fc0e8" stroke="#1f6cb0" stroke-width="1.2"/>
<circle cx="128.1" cy="120.0" r="1.55" fill="#8fc0e8" stroke="#1f6cb0" stroke-width="1.2"/>
<circle cx="148.8" cy="139.4" r="1.55" fill="#8fc0e8" stroke="#1f6cb0" stroke-width="1.2"/>
<circle cx="122.9" cy="110.4" r="1.55" fill="#8fc0e8" stroke="#1f6cb0" stroke-width="1.2"/>
<circle cx="129.8" cy="131.7" r="1.55" fill="#8fc0e8" stroke="#1f6cb0" stroke-width="1.2"/>
<circle cx="129.2" cy="110.4" r="1.55" fill="#8fc0e8" stroke="#1f6cb0" stroke-width="1.2"/>
<circle cx="126.4" cy="133.3" r="1.55" fill="#8fc0e8" stroke="#1f6cb0" stroke-width="1.2"/>
<circle cx="146.9" cy="135.7" r="1.55" fill="#8fc0e8" stroke="#1f6cb0" stroke-width="1.2"/>
<circle cx="137.3" cy="134.9" r="1.55" fill="#8fc0e8" stroke="#1f6cb0" stroke-width="1.2"/>
<circle cx="125.6" cy="115.9" r="1.55" fill="#8fc0e8" stroke="#1f6cb0" stroke-width="1.2"/>
<circle cx="161.8" cy="136.8" r="1.55" fill="#8fc0e8" stroke="#1f6cb0" stroke-width="1.2"/>
<circle cx="122.3" cy="122.2" r="1.55" fill="#8fc0e8" stroke="#1f6cb0" stroke-width="1.2"/>
<circle cx="133.5" cy="134.6" r="1.55" fill="#8fc0e8" stroke="#1f6cb0" stroke-width="1.2"/>
<circle cx="146.6" cy="124.0" r="1.55" fill="#8fc0e8" stroke="#1f6cb0" stroke-width="1.2"/>
<circle cx="162.3" cy="115.5" r="1.55" fill="#8fc0e8" stroke="#1f6cb0" stroke-width="1.2"/>
<circle cx="137.6" cy="131.4" r="1.55" fill="#8fc0e8" stroke="#1f6cb0" stroke-width="1.2"/>
<circle cx="147.7" cy="121.3" r="1.55" fill="#8fc0e8" stroke="#1f6cb0" stroke-width="1.2"/>
<circle cx="128.3" cy="127.6" r="1.55" fill="#8fc0e8" stroke="#1f6cb0" stroke-width="1.2"/>
<circle cx="137.5" cy="124.6" r="1.55" fill="#8fc0e8" stroke="#1f6cb0" stroke-width="1.2"/>
<circle cx="135.0" cy="140.8" r="1.55" fill="#8fc0e8" stroke="#1f6cb0" stroke-width="1.2"/>
<circle cx="122.0" cy="108.6" r="1.55" fill="#8fc0e8" stroke="#1f6cb0" stroke-width="1.2"/>
<circle cx="153.9" cy="131.3" r="1.55" fill="#8fc0e8" stroke="#1f6cb0" stroke-width="1.2"/>
<circle cx="138.9" cy="136.5" r="1.55" fill="#8fc0e8" stroke="#1f6cb0" stroke-width="1.2"/>
<circle cx="121.9" cy="112.1" r="1.55" fill="#8fc0e8" stroke="#1f6cb0" stroke-width="1.2"/>
<circle cx="123.8" cy="119.3" r="1.55" fill="#8fc0e8" stroke="#1f6cb0" stroke-width="1.2"/>
<circle cx="155.1" cy="142.3" r="1.55" fill="#8fc0e8" stroke="#1f6cb0" stroke-width="1.2"/>
<circle cx="153.0" cy="127.3" r="1.55" fill="#8fc0e8" stroke="#1f6cb0" stroke-width="1.2"/>
<circle cx="160.0" cy="136.0" r="1.55" fill="#8fc0e8" stroke="#1f6cb0" stroke-width="1.2"/>
<circle cx="127.7" cy="140.8" r="1.55" fill="#8fc0e8" stroke="#1f6cb0" stroke-width="1.2"/>
<circle cx="127.8" cy="106.3" r="1.55" fill="#8fc0e8" stroke="#1f6cb0" stroke-width="1.2"/>
<circle cx="148.4" cy="130.9" r="1.55" fill="#8fc0e8" stroke="#1f6cb0" stroke-width="1.2"/>
<circle cx="123.8" cy="141.9" r="1.55" fill="#8fc0e8" stroke="#1f6cb0" stroke-width="1.2"/>
<circle cx="127.1" cy="124.9" r="1.55" fill="#8fc0e8" stroke="#1f6cb0" stroke-width="1.2"/>
<circle cx="168.2" cy="129.3" r="1.55" fill="#8fc0e8" stroke="#1f6cb0" stroke-width="1.2"/>
<circle cx="153.6" cy="132.5" r="1.55" fill="#8fc0e8" stroke="#1f6cb0" stroke-width="1.2"/>
<circle cx="149.3" cy="135.2" r="1.55" fill="#8fc0e8" stroke="#1f6cb0" stroke-width="1.2"/>
<circle cx="127.9" cy="121.7" r="1.55" fill="#8fc0e8" stroke="#1f6cb0" stroke-width="1.2"/>
<circle cx="138.1" cy="125.8" r="1.55" fill="#8fc0e8" stroke="#1f6cb0" stroke-width="1.2"/>
<circle cx="135.1" cy="128.7" r="1.55" fill="#8fc0e8" stroke="#1f6cb0" stroke-width="1.2"/>
<circle cx="169.3" cy="127.0" r="1.55" fill="#8fc0e8" stroke="#1f6cb0" stroke-width="1.2"/>
<circle cx="158.3" cy="133.1" r="1.55" fill="#8fc0e8" stroke="#1f6cb0" stroke-width="1.2"/>
<circle cx="163.6" cy="119.4" r="1.55" fill="#8fc0e8" stroke="#1f6cb0" stroke-width="1.2"/>
<circle cx="147.8" cy="139.2" r="1.55" fill="#8fc0e8" stroke="#1f6cb0" stroke-width="1.2"/>
<circle cx="166.1" cy="132.3" r="1.55" fill="#8fc0e8" stroke="#1f6cb0" stroke-width="1.2"/>
<circle cx="144.4" cy="118.9" r="1.55" fill="#8fc0e8" stroke="#1f6cb0" stroke-width="1.2"/>
<circle cx="154.9" cy="124.0" r="1.55" fill="#8fc0e8" stroke="#1f6cb0" stroke-width="1.2"/>
<circle cx="133.7" cy="118.8" r="1.55" fill="#8fc0e8" stroke="#1f6cb0" stroke-width="1.2"/>
<circle cx="129.1" cy="132.9" r="1.55" fill="#8fc0e8" stroke="#1f6cb0" stroke-width="1.2"/>
<circle cx="146.3" cy="141.0" r="1.55" fill="#8fc0e8" stroke="#1f6cb0" stroke-width="1.2"/>
<circle cx="130.3" cy="115.0" r="1.55" fill="#8fc0e8" stroke="#1f6cb0" stroke-width="1.2"/>
<circle cx="161.4" cy="118.9" r="1.55" fill="#8fc0e8" stroke="#1f6cb0" stroke-width="1.2"/>
<circle cx="170.3" cy="121.9" r="1.55" fill="#8fc0e8" stroke="#1f6cb0" stroke-width="1.2"/>
<circle cx="133.1" cy="139.9" r="1.55" fill="#8fc0e8" stroke="#1f6cb0" stroke-width="1.2"/>
<circle cx="127.7" cy="136.5" r="1.55" fill="#8fc0e8" stroke="#1f6cb0" stroke-width="1.2"/>
<circle cx="128.0" cy="128.3" r="1.55" fill="#8fc0e8" stroke="#1f6cb0" stroke-width="1.2"/>
<circle cx="122.8" cy="132.0" r="1.55" fill="#8fc0e8" stroke="#1f6cb0" stroke-width="1.2"/>
<circle cx="166.1" cy="137.8" r="1.55" fill="#8fc0e8" stroke="#1f6cb0" stroke-width="1.2"/>
<circle cx="127.7" cy="110.2" r="1.55" fill="#8fc0e8" stroke="#1f6cb0" stroke-width="1.2"/>
<circle cx="153.2" cy="134.6" r="1.55" fill="#8fc0e8" stroke="#1f6cb0" stroke-width="1.2"/>
<circle cx="153.1" cy="138.4" r="1.55" fill="#8fc0e8" stroke="#1f6cb0" stroke-width="1.2"/>
<circle cx="141.0" cy="124.1" r="1.55" fill="#8fc0e8" stroke="#1f6cb0" stroke-width="1.2"/>
<circle cx="147.3" cy="128.8" r="1.55" fill="#8fc0e8" stroke="#1f6cb0" stroke-width="1.2"/>
<circle cx="152.9" cy="134.3" r="1.55" fill="#8fc0e8" stroke="#1f6cb0" stroke-width="1.2"/>
<circle cx="144.6" cy="136.8" r="1.55" fill="#8fc0e8" stroke="#1f6cb0" stroke-width="1.2"/>
<circle cx="145.4" cy="141.1" r="1.55" fill="#8fc0e8" stroke="#1f6cb0" stroke-width="1.2"/>
<circle cx="148.6" cy="123.0" r="1.55" fill="#8fc0e8" stroke="#1f6cb0" stroke-width="1.2"/>
<circle cx="149.5" cy="131.6" r="1.55" fill="#8fc0e8" stroke="#1f6cb0" stroke-width="1.2"/>
<circle cx="144.0" cy="120.4" r="1.55" fill="#8fc0e8" stroke="#1f6cb0" stroke-width="1.2"/>
<circle cx="131.3" cy="134.9" r="1.55" fill="#8fc0e8" stroke="#1f6cb0" stroke-width="1.2"/>
<circle cx="166.4" cy="125.8" r="1.55" fill="#8fc0e8" stroke="#1f6cb0" stroke-width="1.2"/>
<circle cx="125.0" cy="115.4" r="1.55" fill="#8fc0e8" stroke="#1f6cb0" stroke-width="1.2"/>
<circle cx="134.1" cy="127.8" r="1.55" fill="#8fc0e8" stroke="#1f6cb0" stroke-width="1.2"/>
<circle cx="131.4" cy="126.5" r="1.55" fill="#8fc0e8" stroke="#1f6cb0" stroke-width="1.2"/>
<circle cx="162.3" cy="134.5" r="1.55" fill="#8fc0e8" stroke="#1f6cb0" stroke-width="1.2"/>
<circle cx="139.4" cy="117.6" r="1.55" fill="#8fc0e8" stroke="#1f6cb0" stroke-width="1.2"/>
<circle cx="124.7" cy="118.7" r="1.55" fill="#8fc0e8" stroke="#1f6cb0" stroke-width="1.2"/>
<circle cx="158.6" cy="132.4" r="1.55" fill="#8fc0e8" stroke="#1f6cb0" stroke-width="1.2"/>
<circle cx="130.8" cy="125.1" r="1.55" fill="#8fc0e8" stroke="#1f6cb0" stroke-width="1.2"/>
<circle cx="142.2" cy="140.3" r="1.55" fill="#8fc0e8" stroke="#1f6cb0" stroke-width="1.2"/>
<circle cx="135.4" cy="142.2" r="1.55" fill="#8fc0e8" stroke="#1f6cb0" stroke-width="1.2"/>
<circle cx="149.2" cy="138.5" r="1.55" fill="#8fc0e8" stroke="#1f6cb0" stroke-width="1.2"/>
<circle cx="138.4" cy="136.7" r="1.55" fill="#8fc0e8" stroke="#1f6cb0" stroke-width="1.2"/>
<circle cx="125.9" cy="111.1" r="1.55" fill="#8fc0e8" stroke="#1f6cb0" stroke-width="1.2"/>
<circle cx="154.7" cy="117.5" r="1.55" fill="#8fc0e8" stroke="#1f6cb0" stroke-width="1.2"/>
<circle cx="125.4" cy="140.5" r="1.55" fill="#8fc0e8" stroke="#1f6cb0" stroke-width="1.2"/>
<circle cx="138.5" cy="112.5" r="1.55" fill="#8fc0e8" stroke="#1f6cb0" stroke-width="1.2"/>
<circle cx="125.2" cy="126.8" r="1.55" fill="#8fc0e8" stroke="#1f6cb0" stroke-width="1.2"/>
<circle cx="124.4" cy="131.3" r="1.55" fill="#8fc0e8" stroke="#1f6cb0" stroke-width="1.2"/>
<circle cx="156.5" cy="129.6" r="1.55" fill="#8fc0e8" stroke="#1f6cb0" stroke-width="1.2"/>
<circle cx="129.3" cy="114.7" r="1.55" fill="#8fc0e8" stroke="#1f6cb0" stroke-width="1.2"/>
<circle cx="128.8" cy="130.6" r="1.55" fill="#8fc0e8" stroke="#1f6cb0" stroke-width="1.2"/>
<circle cx="129.8" cy="128.3" r="1.55" fill="#8fc0e8" stroke="#1f6cb0" stroke-width="1.2"/>
<circle cx="140.3" cy="118.7" r="1.55" fill="#8fc0e8" stroke="#1f6cb0" stroke-width="1.2"/>
<circle cx="147.1" cy="131.0" r="1.55" fill="#8fc0e8" stroke="#1f6cb0" stroke-width="1.2"/>
<circle cx="138.3" cy="117.6" r="1.55" fill="#8fc0e8" stroke="#1f6cb0" stroke-width="1.2"/>
<circle cx="144.0" cy="126.4" r="1.55" fill="#8fc0e8" stroke="#1f6cb0" stroke-width="1.2"/>
<circle cx="134.7" cy="113.1" r="1.55" fill="#8fc0e8" stroke="#1f6cb0" stroke-width="1.2"/>
<circle cx="135.9" cy="138.7" r="1.55" fill="#8fc0e8" stroke="#1f6cb0" stroke-width="1.2"/>
<circle cx="131.3" cy="129.7" r="1.55" fill="#8fc0e8" stroke="#1f6cb0" stroke-width="1.2"/>
<circle cx="159.0" cy="128.1" r="1.55" fill="#8fc0e8" stroke="#1f6cb0" stroke-width="1.2"/>
<circle cx="139.4" cy="119.6" r="1.55" fill="#8fc0e8" stroke="#1f6cb0" stroke-width="1.2"/>
<circle cx="162.2" cy="138.2" r="1.55" fill="#8fc0e8" stroke="#1f6cb0" stroke-width="1.2"/>
<circle cx="124.4" cy="123.3" r="1.55" fill="#8fc0e8" stroke="#1f6cb0" stroke-width="1.2"/>
<circle cx="136.6" cy="142.1" r="1.55" fill="#8fc0e8" stroke="#1f6cb0" stroke-width="1.2"/>
<circle cx="146.6" cy="118.8" r="1.55" fill="#8fc0e8" stroke="#1f6cb0" stroke-width="1.2"/>
<circle cx="143.9" cy="129.0" r="1.55" fill="#8fc0e8" stroke="#1f6cb0" stroke-width="1.2"/>
<circle cx="169.8" cy="116.3" r="1.55" fill="#8fc0e8" stroke="#1f6cb0" stroke-width="1.2"/>
<circle cx="130.6" cy="116.0" r="1.55" fill="#8fc0e8" stroke="#1f6cb0" stroke-width="1.2"/>
<circle cx="164.2" cy="137.8" r="1.55" fill="#8fc0e8" stroke="#1f6cb0" stroke-width="1.2"/>
<circle cx="138.4" cy="131.6" r="1.55" fill="#8fc0e8" stroke="#1f6cb0" stroke-width="1.2"/>
<circle cx="156.0" cy="116.1" r="1.55" fill="#8fc0e8" stroke="#1f6cb0" stroke-width="1.2"/>
<circle cx="158.4" cy="136.7" r="1.55" fill="#8fc0e8" stroke="#1f6cb0" stroke-width="1.2"/>
<circle cx="151.0" cy="136.2" r="1.55" fill="#8fc0e8" stroke="#1f6cb0" stroke-width="1.2"/>
<circle cx="129.6" cy="110.4" r="1.55" fill="#8fc0e8" stroke="#1f6cb0" stroke-width="1.2"/>
<circle cx="124.3" cy="130.5" r="1.55" fill="#8fc0e8" stroke="#1f6cb0" stroke-width="1.2"/>
<circle cx="146.6" cy="122.3" r="1.55" fill="#8fc0e8" stroke="#1f6cb0" stroke-width="1.2"/>
<circle cx="158.7" cy="142.2" r="1.55" fill="#8fc0e8" stroke="#1f6cb0" stroke-width="1.2"/>
<circle cx="125.0" cy="110.0" r="1.55" fill="#8fc0e8" stroke="#1f6cb0" stroke-width="1.2"/>
<circle cx="151.1" cy="114.0" r="1.55" fill="#8fc0e8" stroke="#1f6cb0" stroke-width="1.2"/>
<circle cx="143.3" cy="117.6" r="1.55" fill="#8fc0e8" stroke="#1f6cb0" stroke-width="1.2"/>
<circle cx="165.6" cy="115.4" r="1.55" fill="#8fc0e8" stroke="#1f6cb0" stroke-width="1.2"/>
<circle cx="128.0" cy="137.7" r="1.55" fill="#8fc0e8" stroke="#1f6cb0" stroke-width="1.2"/>
<circle cx="139.6" cy="135.3" r="1.55" fill="#8fc0e8" stroke="#1f6cb0" stroke-width="1.2"/>
<circle cx="152.8" cy="127.9" r="1.55" fill="#8fc0e8" stroke="#1f6cb0" stroke-width="1.2"/>
<circle cx="118.5" cy="109.8" r="1.55" fill="#8fc0e8" stroke="#1f6cb0" stroke-width="1.2"/>
<circle cx="133.9" cy="123.6" r="1.55" fill="#8fc0e8" stroke="#1f6cb0" stroke-width="1.2"/>
<circle cx="128.5" cy="141.4" r="1.55" fill="#8fc0e8" stroke="#1f6cb0" stroke-width="1.2"/>
<circle cx="145.7" cy="135.4" r="1.55" fill="#8fc0e8" stroke="#1f6cb0" stroke-width="1.2"/>
<circle cx="122.5" cy="141.0" r="1.55" fill="#8fc0e8" stroke="#1f6cb0" stroke-width="1.2"/>
<circle cx="129.4" cy="118.5" r="1.55" fill="#8fc0e8" stroke="#1f6cb0" stroke-width="1.2"/>
<circle cx="152.8" cy="135.4" r="1.55" fill="#8fc0e8" stroke="#1f6cb0" stroke-width="1.2"/>
<circle cx="151.8" cy="117.2" r="1.55" fill="#8fc0e8" stroke="#1f6cb0" stroke-width="1.2"/>
<circle cx="166.3" cy="115.9" r="1.55" fill="#8fc0e8" stroke="#1f6cb0" stroke-width="1.2"/>
<circle cx="135.2" cy="132.7" r="1.55" fill="#8fc0e8" stroke="#1f6cb0" stroke-width="1.2"/>
<circle cx="126.7" cy="107.2" r="1.55" fill="#8fc0e8" stroke="#1f6cb0" stroke-width="1.2"/>
<circle cx="136.1" cy="120.2" r="1.55" fill="#8fc0e8" stroke="#1f6cb0" stroke-width="1.2"/>
<circle cx="144.4" cy="119.1" r="1.55" fill="#8fc0e8" stroke="#1f6cb0" stroke-width="1.2"/>
<circle cx="146.3" cy="141.1" r="1.55" fill="#8fc0e8" stroke="#1f6cb0" stroke-width="1.2"/>
<circle cx="122.9" cy="142.5" r="1.55" fill="#8fc0e8" stroke="#1f6cb0" stroke-width="1.2"/>
<circle cx="139.2" cy="131.2" r="1.55" fill="#8fc0e8" stroke="#1f6cb0" stroke-width="1.2"/>
<circle cx="163.7" cy="128.1" r="1.55" fill="#8fc0e8" stroke="#1f6cb0" stroke-width="1.2"/>
<circle cx="162.6" cy="130.6" r="1.55" fill="#8fc0e8" stroke="#1f6cb0" stroke-width="1.2"/>
<circle cx="153.3" cy="119.8" r="1.55" fill="#8fc0e8" stroke="#1f6cb0" stroke-width="1.2"/>
<circle cx="129.5" cy="127.0" r="1.55" fill="#8fc0e8" stroke="#1f6cb0" stroke-width="1.2"/>
<circle cx="149.4" cy="140.3" r="1.55" fill="#8fc0e8" stroke="#1f6cb0" stroke-width="1.2"/>
<circle cx="142.5" cy="142.7" r="1.55" fill="#8fc0e8" stroke="#1f6cb0" stroke-width="1.2"/>
<circle cx="138.9" cy="137.7" r="1.55" fill="#8fc0e8" stroke="#1f6cb0" stroke-width="1.2"/>
<circle cx="171.0" cy="122.6" r="1.55" fill="#8fc0e8" stroke="#1f6cb0" stroke-width="1.2"/>
<circle cx="162.2" cy="134.9" r="1.55" fill="#8fc0e8" stroke="#1f6cb0" stroke-width="1.2"/>
<circle cx="164.4" cy="131.5" r="1.55" fill="#8fc0e8" stroke="#1f6cb0" stroke-width="1.2"/>
<circle cx="132.2" cy="128.7" r="1.55" fill="#8fc0e8" stroke="#1f6cb0" stroke-width="1.2"/>
<circle cx="147.2" cy="134.5" r="1.55" fill="#8fc0e8" stroke="#1f6cb0" stroke-width="1.2"/>
<circle cx="136.9" cy="107.0" r="1.55" fill="#8fc0e8" stroke="#1f6cb0" stroke-width="1.2"/>
<circle cx="135.8" cy="137.6" r="1.55" fill="#8fc0e8" stroke="#1f6cb0" stroke-width="1.2"/>
<circle cx="153.4" cy="120.2" r="1.55" fill="#8fc0e8" stroke="#1f6cb0" stroke-width="1.2"/>
<circle cx="123.3" cy="140.6" r="1.55" fill="#8fc0e8" stroke="#1f6cb0" stroke-width="1.2"/>
<circle cx="154.7" cy="132.5" r="1.55" fill="#8fc0e8" stroke="#1f6cb0" stroke-width="1.2"/>
<circle cx="133.9" cy="119.3" r="1.55" fill="#8fc0e8" stroke="#1f6cb0" stroke-width="1.2"/>
<circle cx="129.8" cy="126.2" r="1.55" fill="#8fc0e8" stroke="#1f6cb0" stroke-width="1.2"/>
<circle cx="138.1" cy="132.7" r="1.55" fill="#8fc0e8" stroke="#1f6cb0" stroke-width="1.2"/>
<circle cx="124.2" cy="138.8" r="1.55" fill="#8fc0e8" stroke="#1f6cb0" stroke-width="1.2"/>
<circle cx="163.3" cy="126.6" r="1.55" fill="#8fc0e8" stroke="#1f6cb0" stroke-width="1.2"/>
<circle cx="122.4" cy="138.9" r="1.55" fill="#8fc0e8" stroke="#1f6cb0" stroke-width="1.2"/>
<circle cx="151.5" cy="121.8" r="1.55" fill="#8fc0e8" stroke="#1f6cb0" stroke-width="1.2"/>
<circle cx="138.9" cy="129.2" r="1.55" fill="#8fc0e8" stroke="#1f6cb0" stroke-width="1.2"/>
<circle cx="126.1" cy="129.0" r="1.55" fill="#8fc0e8" stroke="#1f6cb0" stroke-width="1.2"/>
<circle cx="156.8" cy="134.0" r="1.55" fill="#8fc0e8" stroke="#1f6cb0" stroke-width="1.2"/>
<circle cx="163.9" cy="140.8" r="1.55" fill="#8fc0e8" stroke="#1f6cb0" stroke-width="1.2"/>
<circle cx="146.2" cy="124.3" r="1.55" fill="#8fc0e8" stroke="#1f6cb0" stroke-width="1.2"/>
<circle cx="130.4" cy="119.6" r="1.55" fill="#8fc0e8" stroke="#1f6cb0" stroke-width="1.2"/>
<circle cx="142.0" cy="137.0" r="1.55" fill="#8fc0e8" stroke="#1f6cb0" stroke-width="1.2"/>
<circle cx="169.9" cy="124.0" r="1.55" fill="#8fc0e8" stroke="#1f6cb0" stroke-width="1.2"/>
<circle cx="125.4" cy="135.7" r="1.55" fill="#8fc0e8" stroke="#1f6cb0" stroke-width="1.2"/>
<circle cx="152.0" cy="136.9" r="1.55" fill="#8fc0e8" stroke="#1f6cb0" stroke-width="1.2"/>
<circle cx="165.3" cy="140.9" r="1.55" fill="#8fc0e8" stroke="#1f6cb0" stroke-width="1.2"/>
<circle cx="144.3" cy="139.2" r="1.55" fill="#8fc0e8" stroke="#1f6cb0" stroke-width="1.2"/>
<circle cx="133.3" cy="132.6" r="1.55" fill="#8fc0e8" stroke="#1f6cb0" stroke-width="1.2"/>
<circle cx="136.5" cy="120.2" r="1.55" fill="#8fc0e8" stroke="#1f6cb0" stroke-width="1.2"/>
<circle cx="146.8" cy="119.0" r="1.55" fill="#8fc0e8" stroke="#1f6cb0" stroke-width="1.2"/>
<circle cx="122.4" cy="117.9" r="1.55" fill="#8fc0e8" stroke="#1f6cb0" stroke-width="1.2"/>
<circle cx="157.8" cy="122.5" r="1.55" fill="#8fc0e8" stroke="#1f6cb0" stroke-width="1.2"/>
<circle cx="139.2" cy="141.7" r="1.55" fill="#8fc0e8" stroke="#1f6cb0" stroke-width="1.2"/>
<circle cx="149.3" cy="141.4" r="1.55" fill="#8fc0e8" stroke="#1f6cb0" stroke-width="1.2"/>
<circle cx="149.6" cy="117.8" r="1.55" fill="#8fc0e8" stroke="#1f6cb0" stroke-width="1.2"/>
<circle cx="150.2" cy="126.6" r="1.55" fill="#8fc0e8" stroke="#1f6cb0" stroke-width="1.2"/>
<circle cx="140.2" cy="137.4" r="1.55" fill="#8fc0e8" stroke="#1f6cb0" stroke-width="1.2"/>
<circle cx="132.6" cy="130.2" r="1.55" fill="#8fc0e8" stroke="#1f6cb0" stroke-width="1.2"/>
<circle cx="160.0" cy="128.7" r="1.55" fill="#8fc0e8" stroke="#1f6cb0" stroke-width="1.2"/>
<circle cx="141.0" cy="133.1" r="1.55" fill="#8fc0e8" stroke="#1f6cb0" stroke-width="1.2"/>
<circle cx="141.4" cy="120.5" r="1.55" fill="#8fc0e8" stroke="#1f6cb0" stroke-width="1.2"/>
<circle cx="134.4" cy="132.4" r="1.55" fill="#8fc0e8" stroke="#1f6cb0" stroke-width="1.2"/>
<circle cx="123.3" cy="136.4" r="1.55" fill="#8fc0e8" stroke="#1f6cb0" stroke-width="1.2"/>
<circle cx="147.5" cy="139.9" r="1.55" fill="#8fc0e8" stroke="#1f6cb0" stroke-width="1.2"/>
<circle cx="123.7" cy="137.9" r="1.55" fill="#8fc0e8" stroke="#1f6cb0" stroke-width="1.2"/>
<circle cx="143.9" cy="130.6" r="1.55" fill="#8fc0e8" stroke="#1f6cb0" stroke-width="1.2"/>
<circle cx="149.2" cy="123.8" r="1.55" fill="#8fc0e8" stroke="#1f6cb0" stroke-width="1.2"/>
<circle cx="148.3" cy="136.7" r="1.55" fill="#8fc0e8" stroke="#1f6cb0" stroke-width="1.2"/>
<circle cx="134.9" cy="130.9" r="1.55" fill="#8fc0e8" stroke="#1f6cb0" stroke-width="1.2"/>
<circle cx="131.2" cy="132.2" r="1.55" fill="#8fc0e8" stroke="#1f6cb0" stroke-width="1.2"/>
<circle cx="137.6" cy="131.7" r="1.55" fill="#8fc0e8" stroke="#1f6cb0" stroke-width="1.2"/>
<circle cx="129.6" cy="133.1" r="1.55" fill="#8fc0e8" stroke="#1f6cb0" stroke-width="1.2"/>
<circle cx="133.7" cy="136.9" r="1.55" fill="#8fc0e8" stroke="#1f6cb0" stroke-width="1.2"/>
<circle cx="155.1" cy="125.7" r="1.55" fill="#8fc0e8" stroke="#1f6cb0" stroke-width="1.2"/>
<circle cx="158.7" cy="135.2" r="1.55" fill="#8fc0e8" stroke="#1f6cb0" stroke-width="1.2"/>
<circle cx="123.6" cy="133.6" r="1.55" fill="#8fc0e8" stroke="#1f6cb0" stroke-width="1.2"/>
<circle cx="156.6" cy="113.6" r="1.55" fill="#8fc0e8" stroke="#1f6cb0" stroke-width="1.2"/>
<circle cx="130.8" cy="114.7" r="1.55" fill="#8fc0e8" stroke="#1f6cb0" stroke-width="1.2"/>
<circle cx="124.2" cy="122.4" r="1.55" fill="#8fc0e8" stroke="#1f6cb0" stroke-width="1.2"/>
<circle cx="163.8" cy="137.2" r="1.55" fill="#8fc0e8" stroke="#1f6cb0" stroke-width="1.2"/>
<circle cx="146.6" cy="132.4" r="1.55" fill="#8fc0e8" stroke="#1f6cb0" stroke-width="1.2"/>
<circle cx="153.0" cy="139.8" r="1.55" fill="#8fc0e8" stroke="#1f6cb0" stroke-width="1.2"/>
<circle cx="136.8" cy="134.5" r="1.55" fill="#8fc0e8" stroke="#1f6cb0" stroke-width="1.2"/>
<circle cx="123.0" cy="140.6" r="1.55" fill="#8fc0e8" stroke="#1f6cb0" stroke-width="1.2"/>
<circle cx="123.5" cy="142.6" r="1.55" fill="#8fc0e8" stroke="#1f6cb0" stroke-width="1.2"/>
<circle cx="163.6" cy="134.4" r="1.55" fill="#8fc0e8" stroke="#1f6cb0" stroke-width="1.2"/>
<circle cx="127.1" cy="124.1" r="1.55" fill="#8fc0e8" stroke="#1f6cb0" stroke-width="1.2"/>
<circle cx="147.4" cy="141.9" r="1.55" fill="#8fc0e8" stroke="#1f6cb0" stroke-width="1.2"/>
<circle cx="124.4" cy="115.0" r="1.55" fill="#8fc0e8" stroke="#1f6cb0" stroke-width="1.2"/>
<circle cx="163.8" cy="140.4" r="1.55" fill="#8fc0e8" stroke="#1f6cb0" stroke-width="1.2"/>
<circle cx="162.2" cy="130.5" r="1.55" fill="#8fc0e8" stroke="#1f6cb0" stroke-width="1.2"/>
<circle cx="160.3" cy="142.0" r="1.55" fill="#8fc0e8" stroke="#1f6cb0" stroke-width="1.2"/>
<circle cx="139.2" cy="116.4" r="1.55" fill="#8fc0e8" stroke="#1f6cb0" stroke-width="1.2"/>
<circle cx="131.3" cy="126.4" r="1.55" fill="#8fc0e8" stroke="#1f6cb0" stroke-width="1.2"/>
<circle cx="135.3" cy="130.0" r="1.55" fill="#8fc0e8" stroke="#1f6cb0" stroke-width="1.2"/>
<circle cx="129.8" cy="138.3" r="1.55" fill="#8fc0e8" stroke="#1f6cb0" stroke-width="1.2"/>
<circle cx="159.7" cy="116.3" r="1.55" fill="#8fc0e8" stroke="#1f6cb0" stroke-width="1.2"/>
<circle cx="130.9" cy="138.1" r="1.55" fill="#8fc0e8" stroke="#1f6cb0" stroke-width="1.2"/>
<circle cx="129.7" cy="115.1" r="1.55" fill="#8fc0e8" stroke="#1f6cb0" stroke-width="1.2"/>
<circle cx="158.6" cy="112.8" r="1.55" fill="#8fc0e8" stroke="#1f6cb0" stroke-width="1.2"/>
<circle cx="139.6" cy="142.6" r="1.55" fill="#8fc0e8" stroke="#1f6cb0" stroke-width="1.2"/>
<circle cx="141.7" cy="117.9" r="1.55" fill="#8fc0e8" stroke="#1f6cb0" stroke-width="1.2"/>
<circle cx="131.9" cy="140.6" r="1.55" fill="#8fc0e8" stroke="#1f6cb0" stroke-width="1.2"/>
<circle cx="127.1" cy="116.9" r="1.55" fill="#8fc0e8" stroke="#1f6cb0" stroke-width="1.2"/>
<circle cx="133.7" cy="110.3" r="1.55" fill="#8fc0e8" stroke="#1f6cb0" stroke-width="1.2"/>
<circle cx="121.4" cy="111.9" r="1.55" fill="#8fc0e8" stroke="#1f6cb0" stroke-width="1.2"/>
<circle cx="135.0" cy="125.7" r="1.55" fill="#8fc0e8" stroke="#1f6cb0" stroke-width="1.2"/>
<circle cx="160.2" cy="141.9" r="1.55" fill="#8fc0e8" stroke="#1f6cb0" stroke-width="1.2"/>
<circle cx="149.9" cy="136.8" r="1.55" fill="#8fc0e8" stroke="#1f6cb0" stroke-width="1.2"/>
<circle cx="129.0" cy="135.0" r="1.55" fill="#8fc0e8" stroke="#1f6cb0" stroke-width="1.2"/>
<circle cx="152.6" cy="121.6" r="1.55" fill="#8fc0e8" stroke="#1f6cb0" stroke-width="1.2"/>
<circle cx="129.7" cy="140.4" r="1.55" fill="#8fc0e8" stroke="#1f6cb0" stroke-width="1.2"/>
<circle cx="144.7" cy="142.4" r="1.55" fill="#8fc0e8" stroke="#1f6cb0" stroke-width="1.2"/>
<circle cx="126.3" cy="131.9" r="1.55" fill="#8fc0e8" stroke="#1f6cb0" stroke-width="1.2"/>
<circle cx="168.6" cy="114.4" r="1.55" fill="#8fc0e8" stroke="#1f6cb0" stroke-width="1.2"/>
<circle cx="144.1" cy="139.9" r="1.55" fill="#8fc0e8" stroke="#1f6cb0" stroke-width="1.2"/>
<circle cx="151.4" cy="121.5" r="1.55" fill="#8fc0e8" stroke="#1f6cb0" stroke-width="1.2"/>
<circle cx="162.2" cy="134.9" r="1.55" fill="#8fc0e8" stroke="#1f6cb0" stroke-width="1.2"/>
<circle cx="166.2" cy="123.2" r="1.55" fill="#8fc0e8" stroke="#1f6cb0" stroke-width="1.2"/>
<circle cx="147.3" cy="140.8" r="1.55" fill="#8fc0e8" stroke="#1f6cb0" stroke-width="1.2"/>
<circle cx="144.4" cy="116.7" r="1.55" fill="#8fc0e8" stroke="#1f6cb0" stroke-width="1.2"/>
<circle cx="128.7" cy="136.4" r="1.55" fill="#8fc0e8" stroke="#1f6cb0" stroke-width="1.2"/>
<circle cx="154.3" cy="134.9" r="1.55" fill="#8fc0e8" stroke="#1f6cb0" stroke-width="1.2"/>
<circle cx="161.1" cy="135.1" r="1.55" fill="#8fc0e8" stroke="#1f6cb0" stroke-width="1.2"/>
<circle cx="161.4" cy="115.1" r="1.55" fill="#8fc0e8" stroke="#1f6cb0" stroke-width="1.2"/>
<circle cx="158.3" cy="142.4" r="1.55" fill="#8fc0e8" stroke="#1f6cb0" stroke-width="1.2"/>
<circle cx="123.8" cy="132.1" r="1.55" fill="#8fc0e8" stroke="#1f6cb0" stroke-width="1.2"/>
<circle cx="151.8" cy="122.7" r="1.55" fill="#8fc0e8" stroke="#1f6cb0" stroke-width="1.2"/>
<circle cx="125.8" cy="134.8" r="1.55" fill="#8fc0e8" stroke="#1f6cb0" stroke-width="1.2"/>
<circle cx="152.6" cy="134.0" r="1.55" fill="#8fc0e8" stroke="#1f6cb0" stroke-width="1.2"/>
<circle cx="145.1" cy="115.6" r="1.55" fill="#8fc0e8" stroke="#1f6cb0" stroke-width="1.2"/>
<circle cx="150.8" cy="141.5" r="1.55" fill="#8fc0e8" stroke="#1f6cb0" stroke-width="1.2"/>
<circle cx="164.0" cy="124.4" r="1.55" fill="#8fc0e8" stroke="#1f6cb0" stroke-width="1.2"/>
<circle cx="157.6" cy="113.0" r="1.55" fill="#8fc0e8" stroke="#1f6cb0" stroke-width="1.2"/>
<circle cx="134.8" cy="105.8" r="1.55" fill="#8fc0e8" stroke="#1f6cb0" stroke-width="1.2"/>
<circle cx="151.9" cy="119.6" r="1.55" fill="#8fc0e8" stroke="#1f6cb0" stroke-width="1.2"/>
<circle cx="125.2" cy="125.1" r="1.55" fill="#8fc0e8" stroke="#1f6cb0" stroke-width="1.2"/>
<circle cx="156.2" cy="132.1" r="1.55" fill="#8fc0e8" stroke="#1f6cb0" stroke-width="1.2"/>
<circle cx="141.9" cy="120.3" r="1.55" fill="#8fc0e8" stroke="#1f6cb0" stroke-width="1.2"/>
<circle cx="142.9" cy="141.2" r="1.55" fill="#8fc0e8" stroke="#1f6cb0" stroke-width="1.2"/>
<circle cx="131.7" cy="130.8" r="1.55" fill="#8fc0e8" stroke="#1f6cb0" stroke-width="1.2"/>
<circle cx="154.1" cy="127.6" r="1.55" fill="#8fc0e8" stroke="#1f6cb0" stroke-width="1.2"/>
<circle cx="138.3" cy="121.7" r="1.55" fill="#8fc0e8" stroke="#1f6cb0" stroke-width="1.2"/>
<circle cx="143.5" cy="126.5" r="1.55" fill="#8fc0e8" stroke="#1f6cb0" stroke-width="1.2"/>
<circle cx="144.7" cy="119.4" r="1.55" fill="#8fc0e8" stroke="#1f6cb0" stroke-width="1.2"/>
<circle cx="155.6" cy="120.9" r="1.55" fill="#8fc0e8" stroke="#1f6cb0" stroke-width="1.2"/>
<circle cx="140.8" cy="121.1" r="1.55" fill="#8fc0e8" stroke="#1f6cb0" stroke-width="1.2"/>
<circle cx="151.0" cy="119.4" r="1.55" fill="#8fc0e8" stroke="#1f6cb0" stroke-width="1.2"/>
<circle cx="159.1" cy="121.2" r="1.55" fill="#8fc0e8" stroke="#1f6cb0" stroke-width="1.2"/>
<circle cx="164.9" cy="121.2" r="1.55" fill="#8fc0e8" stroke="#1f6cb0" stroke-width="1.2"/>
<circle cx="140.7" cy="129.1" r="1.55" fill="#8fc0e8" stroke="#1f6cb0" stroke-width="1.2"/>
<circle cx="135.6" cy="131.5" r="1.55" fill="#8fc0e8" stroke="#1f6cb0" stroke-width="1.2"/>
<circle cx="139.7" cy="133.7" r="1.55" fill="#8fc0e8" stroke="#1f6cb0" stroke-width="1.2"/>
<circle cx="138.7" cy="142.7" r="1.55" fill="#8fc0e8" stroke="#1f6cb0" stroke-width="1.2"/>
<circle cx="158.5" cy="132.9" r="1.55" fill="#8fc0e8" stroke="#1f6cb0" stroke-width="1.2"/>
<circle cx="130.7" cy="131.2" r="1.55" fill="#8fc0e8" stroke="#1f6cb0" stroke-width="1.2"/>
<circle cx="146.7" cy="142.5" r="1.55" fill="#8fc0e8" stroke="#1f6cb0" stroke-width="1.2"/>
<circle cx="147.9" cy="124.1" r="1.55" fill="#8fc0e8" stroke="#1f6cb0" stroke-width="1.2"/>
<circle cx="148.0" cy="141.1" r="1.55" fill="#8fc0e8" stroke="#1f6cb0" stroke-width="1.2"/>
<circle cx="162.1" cy="118.2" r="1.55" fill="#8fc0e8" stroke="#1f6cb0" stroke-width="1.2"/>
<circle cx="136.5" cy="124.5" r="1.55" fill="#8fc0e8" stroke="#1f6cb0" stroke-width="1.2"/>
<circle cx="137.4" cy="129.3" r="1.55" fill="#8fc0e8" stroke="#1f6cb0" stroke-width="1.2"/>
<circle cx="130.6" cy="110.1" r="1.55" fill="#8fc0e8" stroke="#1f6cb0" stroke-width="1.2"/>
<circle cx="161.6" cy="137.4" r="1.55" fill="#8fc0e8" stroke="#1f6cb0" stroke-width="1.2"/>
<circle cx="155.3" cy="131.0" r="1.55" fill="#8fc0e8" stroke="#1f6cb0" stroke-width="1.2"/>
<circle cx="129.1" cy="127.8" r="1.55" fill="#8fc0e8" stroke="#1f6cb0" stroke-width="1.2"/>
<circle cx="136.4" cy="131.3" r="1.55" fill="#8fc0e8" stroke="#1f6cb0" stroke-width="1.2"/>
<circle cx="165.1" cy="137.9" r="1.55" fill="#8fc0e8" stroke="#1f6cb0" stroke-width="1.2"/>
<circle cx="146.6" cy="126.3" r="1.55" fill="#8fc0e8" stroke="#1f6cb0" stroke-width="1.2"/>
<circle cx="149.7" cy="137.5" r="1.55" fill="#8fc0e8" stroke="#1f6cb0" stroke-width="1.2"/>
<circle cx="134.6" cy="121.7" r="1.55" fill="#8fc0e8" stroke="#1f6cb0" stroke-width="1.2"/>
<circle cx="147.6" cy="117.2" r="1.55" fill="#8fc0e8" stroke="#1f6cb0" stroke-width="1.2"/>
<circle cx="130.6" cy="114.7" r="1.55" fill="#8fc0e8" stroke="#1f6cb0" stroke-width="1.2"/>
<circle cx="149.3" cy="113.7" r="1.55" fill="#8fc0e8" stroke="#1f6cb0" stroke-width="1.2"/>
<circle cx="134.0" cy="138.5" r="1.55" fill="#8fc0e8" stroke="#1f6cb0" stroke-width="1.2"/>
<circle cx="144.3" cy="119.5" r="1.55" fill="#8fc0e8" stroke="#1f6cb0" stroke-width="1.2"/>
<circle cx="150.8" cy="114.4" r="1.55" fill="#8fc0e8" stroke="#1f6cb0" stroke-width="1.2"/>
<circle cx="164.3" cy="136.4" r="1.55" fill="#8fc0e8" stroke="#1f6cb0" stroke-width="1.2"/>
<circle cx="154.7" cy="132.8" r="1.55" fill="#8fc0e8" stroke="#1f6cb0" stroke-width="1.2"/>
<circle cx="130.5" cy="141.8" r="1.55" fill="#8fc0e8" stroke="#1f6cb0" stroke-width="1.2"/>
<circle cx="145.2" cy="142.6" r="1.55" fill="#8fc0e8" stroke="#1f6cb0" stroke-width="1.2"/>
<circle cx="149.3" cy="126.3" r="1.55" fill="#8fc0e8" stroke="#1f6cb0" stroke-width="1.2"/>
<circle cx="142.3" cy="139.0" r="1.55" fill="#8fc0e8" stroke="#1f6cb0" stroke-width="1.2"/>
<circle cx="135.2" cy="141.3" r="1.55" fill="#8fc0e8" stroke="#1f6cb0" stroke-width="1.2"/>
<circle cx="131.3" cy="135.6" r="1.55" fill="#8fc0e8" stroke="#1f6cb0" stroke-width="1.2"/>
<circle cx="124.7" cy="111.1" r="1.55" fill="#8fc0e8" stroke="#1f6cb0" stroke-width="1.2"/>
<circle cx="127.1" cy="128.4" r="1.55" fill="#8fc0e8" stroke="#1f6cb0" stroke-width="1.2"/>
<circle cx="130.7" cy="131.6" r="1.55" fill="#8fc0e8" stroke="#1f6cb0" stroke-width="1.2"/>
<circle cx="144.0" cy="141.7" r="1.55" fill="#8fc0e8" stroke="#1f6cb0" stroke-width="1.2"/>
<circle cx="132.2" cy="139.7" r="1.55" fill="#8fc0e8" stroke="#1f6cb0" stroke-width="1.2"/>
<circle cx="120.6" cy="110.5" r="1.55" fill="#8fc0e8" stroke="#1f6cb0" stroke-width="1.2"/>
<circle cx="132.8" cy="136.8" r="1.55" fill="#8fc0e8" stroke="#1f6cb0" stroke-width="1.2"/>
<circle cx="170.6" cy="117.9" r="1.55" fill="#8fc0e8" stroke="#1f6cb0" stroke-width="1.2"/>
<circle cx="126.8" cy="123.0" r="1.55" fill="#8fc0e8" stroke="#1f6cb0" stroke-width="1.2"/>
<circle cx="158.7" cy="125.6" r="1.55" fill="#8fc0e8" stroke="#1f6cb0" stroke-width="1.2"/>
<circle cx="127.3" cy="132.0" r="1.55" fill="#8fc0e8" stroke="#1f6cb0" stroke-width="1.2"/>
<circle cx="137.8" cy="106.5" r="1.55" fill="#8fc0e8" stroke="#1f6cb0" stroke-width="1.2"/>
<circle cx="132.6" cy="110.6" r="1.55" fill="#8fc0e8" stroke="#1f6cb0" stroke-width="1.2"/>
<circle cx="127.9" cy="128.6" r="1.55" fill="#8fc0e8" stroke="#1f6cb0" stroke-width="1.2"/>
<circle cx="126.2" cy="124.4" r="1.55" fill="#8fc0e8" stroke="#1f6cb0" stroke-width="1.2"/>
<circle cx="125.2" cy="125.7" r="1.55" fill="#8fc0e8" stroke="#1f6cb0" stroke-width="1.2"/>
<circle cx="138.1" cy="122.0" r="1.55" fill="#8fc0e8" stroke="#1f6cb0" stroke-width="1.2"/>
<circle cx="165.4" cy="126.5" r="1.55" fill="#8fc0e8" stroke="#1f6cb0" stroke-width="1.2"/>
<circle cx="146.5" cy="140.6" r="1.55" fill="#8fc0e8" stroke="#1f6cb0" stroke-width="1.2"/>
<circle cx="137.9" cy="131.3" r="1.55" fill="#8fc0e8" stroke="#1f6cb0" stroke-width="1.2"/>
<circle cx="155.5" cy="139.3" r="1.55" fill="#8fc0e8" stroke="#1f6cb0" stroke-width="1.2"/>
<circle cx="124.2" cy="134.2" r="1.55" fill="#8fc0e8" stroke="#1f6cb0" stroke-width="1.2"/>
<circle cx="151.3" cy="114.2" r="1.55" fill="#8fc0e8" stroke="#1f6cb0" stroke-width="1.2"/>
<circle cx="127.3" cy="137.0" r="1.55" fill="#8fc0e8" stroke="#1f6cb0" stroke-width="1.2"/>
<circle cx="147.3" cy="116.6" r="1.55" fill="#8fc0e8" stroke="#1f6cb0" stroke-width="1.2"/>
<circle cx="168.0" cy="119.8" r="1.55" fill="#8fc0e8" stroke="#1f6cb0" stroke-width="1.2"/>
<circle cx="142.2" cy="130.4" r="1.55" fill="#8fc0e8" stroke="#1f6cb0" stroke-width="1.2"/>
<circle cx="159.7" cy="141.7" r="1.55" fill="#8fc0e8" stroke="#1f6cb0" stroke-width="1.2"/>
<circle cx="127.0" cy="132.2" r="1.55" fill="#8fc0e8" stroke="#1f6cb0" stroke-width="1.2"/>
<circle cx="153.8" cy="141.7" r="1.55" fill="#8fc0e8" stroke="#1f6cb0" stroke-width="1.2"/>
<circle cx="142.0" cy="136.0" r="1.55" fill="#8fc0e8" stroke="#1f6cb0" stroke-width="1.2"/>
<circle cx="146.9" cy="137.2" r="1.55" fill="#8fc0e8" stroke="#1f6cb0" stroke-width="1.2"/>
<circle cx="118.4" cy="112.2" r="1.55" fill="#8fc0e8" stroke="#1f6cb0" stroke-width="1.2"/>
<circle cx="149.9" cy="136.0" r="1.55" fill="#8fc0e8" stroke="#1f6cb0" stroke-width="1.2"/>
<circle cx="132.6" cy="134.0" r="1.55" fill="#8fc0e8" stroke="#1f6cb0" stroke-width="1.2"/>
<circle cx="144.8" cy="123.4" r="1.55" fill="#8fc0e8" stroke="#1f6cb0" stroke-width="1.2"/>
<circle cx="149.8" cy="133.5" r="1.55" fill="#8fc0e8" stroke="#1f6cb0" stroke-width="1.2"/>
<circle cx="139.7" cy="105.4" r="1.55" fill="#8fc0e8" stroke="#1f6cb0" stroke-width="1.2"/>
<circle cx="143.4" cy="105.0" r="1.55" fill="#8fc0e8" stroke="#1f6cb0" stroke-width="1.2"/>
<circle cx="144.7" cy="106.2" r="1.55" fill="#8fc0e8" stroke="#1f6cb0" stroke-width="1.2"/>
<circle cx="148.2" cy="104.5" r="1.55" fill="#8fc0e8" stroke="#1f6cb0" stroke-width="1.2"/>
<circle cx="150.4" cy="105.9" r="1.55" fill="#8fc0e8" stroke="#1f6cb0" stroke-width="1.2"/>
<circle cx="154.1" cy="104.1" r="1.55" fill="#8fc0e8" stroke="#1f6cb0" stroke-width="1.2"/>
<circle cx="156.8" cy="104.2" r="1.55" fill="#8fc0e8" stroke="#1f6cb0" stroke-width="1.2"/>
<circle cx="159.2" cy="104.9" r="1.55" fill="#8fc0e8" stroke="#1f6cb0" stroke-width="1.2"/>
<circle cx="161.3" cy="105.4" r="1.55" fill="#8fc0e8" stroke="#1f6cb0" stroke-width="1.2"/>
<circle cx="112.6" cy="121.9" r="1.55" fill="#8fc0e8" stroke="#1f6cb0" stroke-width="1.2"/>
<circle cx="114.5" cy="124.0" r="1.55" fill="#8fc0e8" stroke="#1f6cb0" stroke-width="1.2"/>
<circle cx="116.4" cy="126.1" r="1.55" fill="#8fc0e8" stroke="#1f6cb0" stroke-width="1.2"/>
<circle cx="118.4" cy="128.2" r="1.55" fill="#8fc0e8" stroke="#1f6cb0" stroke-width="1.2"/>
<circle cx="120.3" cy="130.3" r="1.55" fill="#8fc0e8" stroke="#1f6cb0" stroke-width="1.2"/>
<text x="89.50" y="19.40" font-size="7.0" text-anchor="middle" fill="#1e1e1e" stroke="#1e1e1e" stroke-width="0.12" textLength="10.04" lengthAdjust="spacingAndGlyphs" >191</text>
<text x="57.70" y="54.70" font-size="7.0" text-anchor="middle" fill="#1e1e1e" stroke="#1e1e1e" stroke-width="0.12" textLength="10.04" lengthAdjust="spacingAndGlyphs" >30b</text>
<text x="66.20" y="67.30" font-size="7.0" text-anchor="middle" fill="#1e1e1e" stroke="#1e1e1e" stroke-width="0.12" textLength="10.04" lengthAdjust="spacingAndGlyphs" >33a</text>
<text x="84.60" y="69.80" font-size="7.0" text-anchor="middle" fill="#1e1e1e" stroke="#1e1e1e" stroke-width="0.12" textLength="10.04" lengthAdjust="spacingAndGlyphs" >362</text>
<text x="105.70" y="74.70" font-size="7.0" text-anchor="middle" fill="#1e1e1e" stroke="#1e1e1e" stroke-width="0.12" textLength="10.04" lengthAdjust="spacingAndGlyphs" >744</text>
<text x="114.60" y="62.70" font-size="7.0" text-anchor="middle" fill="#1e1e1e" stroke="#1e1e1e" stroke-width="0.12" textLength="13.39" lengthAdjust="spacingAndGlyphs" >200b</text>
<text x="83.50" y="83.90" font-size="7.0" text-anchor="middle" fill="#1e1e1e" stroke="#1e1e1e" stroke-width="0.12" textLength="10.04" lengthAdjust="spacingAndGlyphs" >429</text>
<text x="110.20" y="88.60" font-size="7.0" text-anchor="middle" fill="#1e1e1e" stroke="#1e1e1e" stroke-width="0.12" textLength="15.40" lengthAdjust="spacingAndGlyphs" >99a-2</text>
<text x="276.30" y="13.40" font-size="14.3" text-anchor="start" font-weight="bold" fill="#000" stroke="#000" stroke-width="0.18" textLength="10.33" lengthAdjust="spacingAndGlyphs" >B</text>
<path d="M318.7,6.5 V148.5 H514.6" fill="none" stroke="#3a3a3a" stroke-width="1.15"/>
<line x1="316.2" y1="13.3" x2="318.7" y2="13.3" stroke="#3a3a3a" stroke-width="1" />
<text x="314.10" y="15.90" font-size="7.5" text-anchor="end" fill="#1e1e1e" stroke="#1e1e1e" stroke-width="0.14" textLength="13.00" lengthAdjust="spacingAndGlyphs" >1.00</text>
<line x1="316.2" y1="45.3" x2="318.7" y2="45.3" stroke="#3a3a3a" stroke-width="1" />
<text x="314.10" y="47.90" font-size="7.5" text-anchor="end" fill="#1e1e1e" stroke="#1e1e1e" stroke-width="0.14" textLength="13.00" lengthAdjust="spacingAndGlyphs" >0.75</text>
<line x1="316.2" y1="77.3" x2="318.7" y2="77.3" stroke="#3a3a3a" stroke-width="1" />
<text x="314.10" y="79.90" font-size="7.5" text-anchor="end" fill="#1e1e1e" stroke="#1e1e1e" stroke-width="0.14" textLength="13.00" lengthAdjust="spacingAndGlyphs" >0.50</text>
<line x1="316.2" y1="109.3" x2="318.7" y2="109.3" stroke="#3a3a3a" stroke-width="1" />
<text x="314.10" y="111.90" font-size="7.5" text-anchor="end" fill="#1e1e1e" stroke="#1e1e1e" stroke-width="0.14" textLength="13.00" lengthAdjust="spacingAndGlyphs" >0.25</text>
<line x1="316.2" y1="141.3" x2="318.7" y2="141.3" stroke="#3a3a3a" stroke-width="1" />
<text x="314.10" y="143.90" font-size="7.5" text-anchor="end" fill="#1e1e1e" stroke="#1e1e1e" stroke-width="0.14" textLength="13.00" lengthAdjust="spacingAndGlyphs" >0.00</text>
<line x1="327.7" y1="148.5" x2="327.7" y2="150.7" stroke="#3a3a3a" stroke-width="1" />
<text x="327.70" y="158.10" font-size="7.5" text-anchor="middle" fill="#1e1e1e" stroke="#1e1e1e" stroke-width="0.14" textLength="3.63" lengthAdjust="spacingAndGlyphs" >0</text>
<line x1="369.45" y1="148.5" x2="369.45" y2="150.7" stroke="#3a3a3a" stroke-width="1" />
<text x="369.45" y="158.10" font-size="7.5" text-anchor="middle" fill="#1e1e1e" stroke="#1e1e1e" stroke-width="0.14" textLength="16.33" lengthAdjust="spacingAndGlyphs" >1,000</text>
<line x1="411.2" y1="148.5" x2="411.2" y2="150.7" stroke="#3a3a3a" stroke-width="1" />
<text x="411.20" y="158.10" font-size="7.5" text-anchor="middle" fill="#1e1e1e" stroke="#1e1e1e" stroke-width="0.14" textLength="16.33" lengthAdjust="spacingAndGlyphs" >2,000</text>
<line x1="452.95" y1="148.5" x2="452.95" y2="150.7" stroke="#3a3a3a" stroke-width="1" />
<text x="452.95" y="158.10" font-size="7.5" text-anchor="middle" fill="#1e1e1e" stroke="#1e1e1e" stroke-width="0.14" textLength="16.33" lengthAdjust="spacingAndGlyphs" >3,000</text>
<line x1="494.7" y1="148.5" x2="494.7" y2="150.7" stroke="#3a3a3a" stroke-width="1" />
<text x="494.70" y="158.10" font-size="7.5" text-anchor="middle" fill="#1e1e1e" stroke="#1e1e1e" stroke-width="0.14" textLength="16.33" lengthAdjust="spacingAndGlyphs" >4,000</text>
<g transform="translate(292.8,68.65) rotate(-90)">
<text x="0.00" y="0.00" font-size="7.0" text-anchor="middle" font-weight="bold" fill="#1e1e1e" stroke="#1e1e1e" stroke-width="0.1" textLength="9.40" lengthAdjust="spacingAndGlyphs" >RFI</text>
</g>
<text x="413.20" y="167.80" font-size="7.3" text-anchor="middle" font-weight="bold" fill="#1e1e1e" stroke="#1e1e1e" stroke-width="0.1" textLength="53.50" lengthAdjust="spacingAndGlyphs" >Follow-up (days)</text>
<text x="322.20" y="136.70" font-size="7.4" text-anchor="start" fill="#1e1e1e" stroke="#1e1e1e" stroke-width="0.14" textLength="65.40" lengthAdjust="spacingAndGlyphs" >TCGA-HiSeq (<tspan font-style="italic">N</tspan> = 158)</text>
<text x="322.20" y="144.90" font-size="7.4" text-anchor="start" fill="#1e1e1e" stroke="#1e1e1e" stroke-width="0.14" textLength="94.30" lengthAdjust="spacingAndGlyphs" >HR, 2.72 (1.48–5.00), <tspan font-style="italic">P</tspan> = 0.002</text>
<path d="M327.5,13.3 H330 V16.3 H333 V17.5 H336 V19 H338.5 V21 H339.5 V25 H340.5 V30 H341.5 V34 H342.5 V38 H344.5 V42 H347.5 V45 H349.5 V48 H351.5 V52 H353 V55 H354.5 V57.5 H359.5 V59.5 H364 V61 H368.5 V64.5 H390.8 V70.9 H407.7 V88.5 H423 V99.8 H434.5 V110.6 H504.6" fill="none" stroke="#E6BD2C" stroke-width="1.3"/>
<path d="M329.00,16.3 h4.0 M331.00,14.30 v4.0" stroke="#E6BD2C" stroke-width="1.0"/>
<path d="M332.00,17.5 h4.0 M334.00,15.50 v4.0" stroke="#E6BD2C" stroke-width="1.0"/>
<path d="M335.00,19.0 h4.0 M337.00,17.00 v4.0" stroke="#E6BD2C" stroke-width="1.0"/>
<path d="M338.00,25.0 h4.0 M340.00,23.00 v4.0" stroke="#E6BD2C" stroke-width="1.0"/>
<path d="M341.00,38.0 h4.0 M343.00,36.00 v4.0" stroke="#E6BD2C" stroke-width="1.0"/>
<path d="M344.00,42.0 h4.0 M346.00,40.00 v4.0" stroke="#E6BD2C" stroke-width="1.0"/>
<path d="M347.00,45.0 h4.0 M349.00,43.00 v4.0" stroke="#E6BD2C" stroke-width="1.0"/>
<path d="M354.00,57.5 h4.0 M356.00,55.50 v4.0" stroke="#E6BD2C" stroke-width="1.0"/>
<path d="M356.00,57.5 h4.0 M358.00,55.50 v4.0" stroke="#E6BD2C" stroke-width="1.0"/>
<path d="M360.00,59.5 h4.0 M362.00,57.50 v4.0" stroke="#E6BD2C" stroke-width="1.0"/>
<path d="M364.00,61.0 h4.0 M366.00,59.00 v4.0" stroke="#E6BD2C" stroke-width="1.0"/>
<path d="M374.00,64.5 h4.0 M376.00,62.50 v4.0" stroke="#E6BD2C" stroke-width="1.0"/>
<path d="M378.00,64.5 h4.0 M380.00,62.50 v4.0" stroke="#E6BD2C" stroke-width="1.0"/>
<path d="M382.00,64.5 h4.0 M384.00,62.50 v4.0" stroke="#E6BD2C" stroke-width="1.0"/>
<path d="M386.00,64.5 h4.0 M388.00,62.50 v4.0" stroke="#E6BD2C" stroke-width="1.0"/>
<path d="M403.00,70.9 h4.0 M405.00,68.90 v4.0" stroke="#E6BD2C" stroke-width="1.0"/>
<path d="M410.00,88.5 h4.0 M412.00,86.50 v4.0" stroke="#E6BD2C" stroke-width="1.0"/>
<path d="M462.00,110.6 h4.0 M464.00,108.60 v4.0" stroke="#E6BD2C" stroke-width="1.0"/>
<path d="M491.00,110.6 h4.0 M493.00,108.60 v4.0" stroke="#E6BD2C" stroke-width="1.0"/>
<path d="M502.00,110.6 h4.0 M504.00,108.60 v4.0" stroke="#E6BD2C" stroke-width="1.0"/>
<path d="M327.5,13.3 H333 V14.5 H336 V16 H339 V17.5 H342 V19 H345 V20.5 H348 V22 H351 V23.5 H353 V27 H355.5 V31 H357.5 V34 H360.5 V37 H363.5 V40.8 H397.5 V50.2 H507" fill="none" stroke="#2A78B8" stroke-width="1.3"/>
<path d="M326.00,13.3 h4.0 M328.00,11.30 v4.0" stroke="#2A78B8" stroke-width="1.0"/>
<path d="M328.00,13.3 h4.0 M330.00,11.30 v4.0" stroke="#2A78B8" stroke-width="1.0"/>
<path d="M330.00,13.3 h4.0 M332.00,11.30 v4.0" stroke="#2A78B8" stroke-width="1.0"/>
<path d="M333.00,14.5 h4.0 M335.00,12.50 v4.0" stroke="#2A78B8" stroke-width="1.0"/>
<path d="M336.00,16.0 h4.0 M338.00,14.00 v4.0" stroke="#2A78B8" stroke-width="1.0"/>
<path d="M339.00,17.5 h4.0 M341.00,15.50 v4.0" stroke="#2A78B8" stroke-width="1.0"/>
<path d="M342.00,19.0 h4.0 M344.00,17.00 v4.0" stroke="#2A78B8" stroke-width="1.0"/>
<path d="M345.00,20.5 h4.0 M347.00,18.50 v4.0" stroke="#2A78B8" stroke-width="1.0"/>
<path d="M348.00,22.0 h4.0 M350.00,20.00 v4.0" stroke="#2A78B8" stroke-width="1.0"/>
<path d="M367.00,40.8 h4.0 M369.00,38.80 v4.0" stroke="#2A78B8" stroke-width="1.0"/>
<path d="M370.00,40.8 h4.0 M372.00,38.80 v4.0" stroke="#2A78B8" stroke-width="1.0"/>
<path d="M373.00,40.8 h4.0 M375.00,38.80 v4.0" stroke="#2A78B8" stroke-width="1.0"/>
<path d="M382.00,40.8 h4.0 M384.00,38.80 v4.0" stroke="#2A78B8" stroke-width="1.0"/>
<path d="M385.00,40.8 h4.0 M387.00,38.80 v4.0" stroke="#2A78B8" stroke-width="1.0"/>
<path d="M388.00,40.8 h4.0 M390.00,38.80 v4.0" stroke="#2A78B8" stroke-width="1.0"/>
<path d="M391.00,40.8 h4.0 M393.00,38.80 v4.0" stroke="#2A78B8" stroke-width="1.0"/>
<path d="M395.50,50.2 h4.0 M397.50,48.20 v4.0" stroke="#2A78B8" stroke-width="1.0"/>
<path d="M402.60,50.2 h4.0 M404.60,48.20 v4.0" stroke="#2A78B8" stroke-width="1.0"/>
<path d="M419.50,50.2 h4.0 M421.50,48.20 v4.0" stroke="#2A78B8" stroke-width="1.0"/>
<path d="M424.00,50.2 h4.0 M426.00,48.20 v4.0" stroke="#2A78B8" stroke-width="1.0"/>
<path d="M445.70,50.2 h4.0 M447.70,48.20 v4.0" stroke="#2A78B8" stroke-width="1.0"/>
<path d="M450.30,50.2 h4.0 M452.30,48.20 v4.0" stroke="#2A78B8" stroke-width="1.0"/>
<path d="M478.00,50.2 h4.0 M480.00,48.20 v4.0" stroke="#2A78B8" stroke-width="1.0"/>
<path d="M491.80,50.2 h4.0 M493.80,48.20 v4.0" stroke="#2A78B8" stroke-width="1.0"/>
<path d="M497.00,50.2 h4.0 M499.00,48.20 v4.0" stroke="#2A78B8" stroke-width="1.0"/>
<path d="M504.00,50.2 h4.0 M506.00,48.20 v4.0" stroke="#2A78B8" stroke-width="1.0"/>
<line x1="436" y1="75.7" x2="444" y2="75.7" stroke="#2A78B8" stroke-width="1.0" />
<line x1="440.0" y1="73.7" x2="440.0" y2="77.7" stroke="#2A78B8" stroke-width="1.0" />
<text x="448.80" y="78.30" font-size="7.4" text-anchor="start" fill="#1e1e1e" stroke="#1e1e1e" stroke-width="0.14" textLength="13.17" lengthAdjust="spacingAndGlyphs" >Low</text>
<line x1="464.3" y1="75.7" x2="471.7" y2="75.7" stroke="#E6BD2C" stroke-width="1.0" />
<line x1="468.0" y1="73.7" x2="468.0" y2="77.7" stroke="#E6BD2C" stroke-width="1.0" />
<text x="476.40" y="78.30" font-size="7.4" text-anchor="start" fill="#1e1e1e" stroke="#1e1e1e" stroke-width="0.14" textLength="14.76" lengthAdjust="spacingAndGlyphs" >High</text>
<path d="M322.2,164 V205.3 H514.6" fill="none" stroke="#3a3a3a" stroke-width="1.2"/>
<line x1="300.3" y1="177.3" x2="316.2" y2="177.3" stroke="#2C5E9E" stroke-width="2.5" />
<text x="330.40" y="178.98" font-size="8.0" text-anchor="middle" fill="#1e1e1e" stroke="#1e1e1e" stroke-width="0.1" textLength="7.65" lengthAdjust="spacingAndGlyphs" >75</text>
<text x="371.20" y="178.98" font-size="8.0" text-anchor="middle" fill="#1e1e1e" stroke="#1e1e1e" stroke-width="0.1" textLength="7.65" lengthAdjust="spacingAndGlyphs" >22</text>
<text x="412.30" y="178.98" font-size="8.0" text-anchor="middle" fill="#1e1e1e" stroke="#1e1e1e" stroke-width="0.1" textLength="3.83" lengthAdjust="spacingAndGlyphs" >9</text>
<text x="453.70" y="178.98" font-size="8.0" text-anchor="middle" fill="#1e1e1e" stroke="#1e1e1e" stroke-width="0.1" textLength="3.83" lengthAdjust="spacingAndGlyphs" >5</text>
<text x="494.60" y="178.98" font-size="8.0" text-anchor="middle" fill="#1e1e1e" stroke="#1e1e1e" stroke-width="0.1" textLength="3.83" lengthAdjust="spacingAndGlyphs" >3</text>
<line x1="300.3" y1="196.1" x2="316.2" y2="196.1" stroke="#CDB040" stroke-width="2.5" />
<text x="330.40" y="197.38" font-size="8.0" text-anchor="middle" fill="#1e1e1e" stroke="#1e1e1e" stroke-width="0.1" textLength="7.65" lengthAdjust="spacingAndGlyphs" >78</text>
<text x="371.20" y="197.38" font-size="8.0" text-anchor="middle" fill="#1e1e1e" stroke="#1e1e1e" stroke-width="0.1" textLength="7.65" lengthAdjust="spacingAndGlyphs" >17</text>
<text x="412.30" y="197.38" font-size="8.0" text-anchor="middle" fill="#1e1e1e" stroke="#1e1e1e" stroke-width="0.1" textLength="3.83" lengthAdjust="spacingAndGlyphs" >6</text>
<text x="453.70" y="197.38" font-size="8.0" text-anchor="middle" fill="#1e1e1e" stroke="#1e1e1e" stroke-width="0.1" textLength="3.83" lengthAdjust="spacingAndGlyphs" >3</text>
<text x="494.60" y="197.38" font-size="8.0" text-anchor="middle" fill="#1e1e1e" stroke="#1e1e1e" stroke-width="0.1" textLength="3.83" lengthAdjust="spacingAndGlyphs" >1</text>
<text x="0.80" y="235.70" font-size="14.3" text-anchor="start" font-weight="bold" fill="#000" stroke="#000" stroke-width="0.18" textLength="10.33" lengthAdjust="spacingAndGlyphs" >C</text>
<path d="M33.4,237.7 V379.3 H228.8" fill="none" stroke="#3a3a3a" stroke-width="1.15"/>
<line x1="30.9" y1="244.2" x2="33.4" y2="244.2" stroke="#3a3a3a" stroke-width="1" />
<text x="28.80" y="246.80" font-size="7.5" text-anchor="end" fill="#1e1e1e" stroke="#1e1e1e" stroke-width="0.14" textLength="13.00" lengthAdjust="spacingAndGlyphs" >1.00</text>
<line x1="30.9" y1="276.4" x2="33.4" y2="276.4" stroke="#3a3a3a" stroke-width="1" />
<text x="28.80" y="279.00" font-size="7.5" text-anchor="end" fill="#1e1e1e" stroke="#1e1e1e" stroke-width="0.14" textLength="13.00" lengthAdjust="spacingAndGlyphs" >0.75</text>
<line x1="30.9" y1="308.6" x2="33.4" y2="308.6" stroke="#3a3a3a" stroke-width="1" />
<text x="28.80" y="311.20" font-size="7.5" text-anchor="end" fill="#1e1e1e" stroke="#1e1e1e" stroke-width="0.14" textLength="13.00" lengthAdjust="spacingAndGlyphs" >0.50</text>
<line x1="30.9" y1="340.8" x2="33.4" y2="340.8" stroke="#3a3a3a" stroke-width="1" />
<text x="28.80" y="343.40" font-size="7.5" text-anchor="end" fill="#1e1e1e" stroke="#1e1e1e" stroke-width="0.14" textLength="13.00" lengthAdjust="spacingAndGlyphs" >0.25</text>
<line x1="30.9" y1="373.0" x2="33.4" y2="373.0" stroke="#3a3a3a" stroke-width="1" />
<text x="28.80" y="375.60" font-size="7.5" text-anchor="end" fill="#1e1e1e" stroke="#1e1e1e" stroke-width="0.14" textLength="13.00" lengthAdjust="spacingAndGlyphs" >0.00</text>
<line x1="42.3" y1="379.3" x2="42.3" y2="381.5" stroke="#3a3a3a" stroke-width="1" />
<text x="42.30" y="388.90" font-size="7.5" text-anchor="middle" fill="#1e1e1e" stroke="#1e1e1e" stroke-width="0.14" textLength="3.63" lengthAdjust="spacingAndGlyphs" >0</text>
<line x1="92.69999999999999" y1="379.3" x2="92.69999999999999" y2="381.5" stroke="#3a3a3a" stroke-width="1" />
<text x="92.70" y="388.90" font-size="7.5" text-anchor="middle" fill="#1e1e1e" stroke="#1e1e1e" stroke-width="0.14" textLength="16.33" lengthAdjust="spacingAndGlyphs" >1,000</text>
<line x1="143.1" y1="379.3" x2="143.1" y2="381.5" stroke="#3a3a3a" stroke-width="1" />
<text x="143.10" y="388.90" font-size="7.5" text-anchor="middle" fill="#1e1e1e" stroke="#1e1e1e" stroke-width="0.14" textLength="16.33" lengthAdjust="spacingAndGlyphs" >2,000</text>
<line x1="193.5" y1="379.3" x2="193.5" y2="381.5" stroke="#3a3a3a" stroke-width="1" />
<text x="193.50" y="388.90" font-size="7.5" text-anchor="middle" fill="#1e1e1e" stroke="#1e1e1e" stroke-width="0.14" textLength="16.33" lengthAdjust="spacingAndGlyphs" >3,000</text>
<g transform="translate(7.65,300.8) rotate(-90)">
<text x="0.00" y="0.00" font-size="7.0" text-anchor="middle" font-weight="bold" fill="#1e1e1e" stroke="#1e1e1e" stroke-width="0.1" textLength="9.40" lengthAdjust="spacingAndGlyphs" >RFI</text>
</g>
<text x="125.60" y="401.60" font-size="7.3" text-anchor="middle" font-weight="bold" fill="#1e1e1e" stroke="#1e1e1e" stroke-width="0.1" textLength="53.50" lengthAdjust="spacingAndGlyphs" >Follow-up (days)</text>
<text x="35.80" y="367.70" font-size="7.4" text-anchor="start" fill="#1e1e1e" stroke="#1e1e1e" stroke-width="0.14" textLength="56.00" lengthAdjust="spacingAndGlyphs" >TCGA-GA (<tspan font-style="italic">N</tspan> = 109)</text>
<text x="35.80" y="376.50" font-size="7.4" text-anchor="start" fill="#1e1e1e" stroke="#1e1e1e" stroke-width="0.14" textLength="104.00" lengthAdjust="spacingAndGlyphs" >HR, 2.71 (1.64–4.51), <tspan font-style="italic">P</tspan> = 0.00006</text>
<path d="M43.7,244.2 H46 V246 H48.5 V249.4 H52 V252 H55 V253 H58 V254 H60 V256 H62 V258 H64 V261 H67 V264 H72 V266 H75 V268 H80.2 V280 H81 V287 H82.6 V291.7 H95.6 V300.4 H97 V305 H98.5 V310.5 H170" fill="none" stroke="#E6BD2C" stroke-width="1.3"/>
<path d="M47.00,249.4 h4.0 M49.00,247.40 v4.0" stroke="#E6BD2C" stroke-width="1.0"/>
<path d="M51.00,252.0 h4.0 M53.00,250.00 v4.0" stroke="#E6BD2C" stroke-width="1.0"/>
<path d="M54.00,253.0 h4.0 M56.00,251.00 v4.0" stroke="#E6BD2C" stroke-width="1.0"/>
<path d="M57.00,254.0 h4.0 M59.00,252.00 v4.0" stroke="#E6BD2C" stroke-width="1.0"/>
<path d="M59.00,256.0 h4.0 M61.00,254.00 v4.0" stroke="#E6BD2C" stroke-width="1.0"/>
<path d="M61.00,258.0 h4.0 M63.00,256.00 v4.0" stroke="#E6BD2C" stroke-width="1.0"/>
<path d="M64.00,261.0 h4.0 M66.00,259.00 v4.0" stroke="#E6BD2C" stroke-width="1.0"/>
<path d="M68.00,264.0 h4.0 M70.00,262.00 v4.0" stroke="#E6BD2C" stroke-width="1.0"/>
<path d="M72.00,266.0 h4.0 M74.00,264.00 v4.0" stroke="#E6BD2C" stroke-width="1.0"/>
<path d="M75.00,268.0 h4.0 M77.00,266.00 v4.0" stroke="#E6BD2C" stroke-width="1.0"/>
<path d="M82.00,291.7 h4.0 M84.00,289.70 v4.0" stroke="#E6BD2C" stroke-width="1.0"/>
<path d="M84.00,291.7 h4.0 M86.00,289.70 v4.0" stroke="#E6BD2C" stroke-width="1.0"/>
<path d="M87.00,291.7 h4.0 M89.00,289.70 v4.0" stroke="#E6BD2C" stroke-width="1.0"/>
<path d="M89.00,291.7 h4.0 M91.00,289.70 v4.0" stroke="#E6BD2C" stroke-width="1.0"/>
<path d="M99.30,310.5 h4.0 M101.30,308.50 v4.0" stroke="#E6BD2C" stroke-width="1.0"/>
<path d="M116.00,310.5 h4.0 M118.00,308.50 v4.0" stroke="#E6BD2C" stroke-width="1.0"/>
<path d="M119.00,310.5 h4.0 M121.00,308.50 v4.0" stroke="#E6BD2C" stroke-width="1.0"/>
<path d="M121.50,310.5 h4.0 M123.50,308.50 v4.0" stroke="#E6BD2C" stroke-width="1.0"/>
<path d="M137.25,310.5 h4.0 M139.25,308.50 v4.0" stroke="#E6BD2C" stroke-width="1.0"/>
<path d="M168.00,310.5 h4.0 M170.00,308.50 v4.0" stroke="#E6BD2C" stroke-width="1.0"/>
<path d="M43.7,244.2 H58 V247.5 H217.5" fill="none" stroke="#2A78B8" stroke-width="1.3"/>
<path d="M47.40,244.2 h4.0 M49.40,242.20 v4.0" stroke="#2A78B8" stroke-width="1.0"/>
<path d="M49.50,244.2 h4.0 M51.50,242.20 v4.0" stroke="#2A78B8" stroke-width="1.0"/>
<path d="M51.50,244.2 h4.0 M53.50,242.20 v4.0" stroke="#2A78B8" stroke-width="1.0"/>
<path d="M53.50,244.2 h4.0 M55.50,242.20 v4.0" stroke="#2A78B8" stroke-width="1.0"/>
<path d="M61.00,247.5 h4.0 M63.00,245.50 v4.0" stroke="#2A78B8" stroke-width="1.0"/>
<path d="M62.50,247.5 h4.0 M64.50,245.50 v4.0" stroke="#2A78B8" stroke-width="1.0"/>
<path d="M64.00,247.5 h4.0 M66.00,245.50 v4.0" stroke="#2A78B8" stroke-width="1.0"/>
<path d="M65.50,247.5 h4.0 M67.50,245.50 v4.0" stroke="#2A78B8" stroke-width="1.0"/>
<path d="M67.00,247.5 h4.0 M69.00,245.50 v4.0" stroke="#2A78B8" stroke-width="1.0"/>
<path d="M71.00,247.5 h4.0 M73.00,245.50 v4.0" stroke="#2A78B8" stroke-width="1.0"/>
<path d="M75.70,247.5 h4.0 M77.70,245.50 v4.0" stroke="#2A78B8" stroke-width="1.0"/>
<path d="M79.70,247.5 h4.0 M81.70,245.50 v4.0" stroke="#2A78B8" stroke-width="1.0"/>
<path d="M86.00,247.5 h4.0 M88.00,245.50 v4.0" stroke="#2A78B8" stroke-width="1.0"/>
<path d="M88.00,247.5 h4.0 M90.00,245.50 v4.0" stroke="#2A78B8" stroke-width="1.0"/>
<path d="M90.00,247.5 h4.0 M92.00,245.50 v4.0" stroke="#2A78B8" stroke-width="1.0"/>
<path d="M92.00,247.5 h4.0 M94.00,245.50 v4.0" stroke="#2A78B8" stroke-width="1.0"/>
<path d="M94.00,247.5 h4.0 M96.00,245.50 v4.0" stroke="#2A78B8" stroke-width="1.0"/>
<path d="M96.00,247.5 h4.0 M98.00,245.50 v4.0" stroke="#2A78B8" stroke-width="1.0"/>
<path d="M98.00,247.5 h4.0 M100.00,245.50 v4.0" stroke="#2A78B8" stroke-width="1.0"/>
<path d="M99.30,247.5 h4.0 M101.30,245.50 v4.0" stroke="#2A78B8" stroke-width="1.0"/>
<path d="M104.00,247.5 h4.0 M106.00,245.50 v4.0" stroke="#2A78B8" stroke-width="1.0"/>
<path d="M111.00,247.5 h4.0 M113.00,245.50 v4.0" stroke="#2A78B8" stroke-width="1.0"/>
<path d="M113.00,247.5 h4.0 M115.00,245.50 v4.0" stroke="#2A78B8" stroke-width="1.0"/>
<path d="M116.00,247.5 h4.0 M118.00,245.50 v4.0" stroke="#2A78B8" stroke-width="1.0"/>
<path d="M128.40,247.5 h4.0 M130.40,245.50 v4.0" stroke="#2A78B8" stroke-width="1.0"/>
<path d="M135.10,247.5 h4.0 M137.10,245.50 v4.0" stroke="#2A78B8" stroke-width="1.0"/>
<path d="M142.60,247.5 h4.0 M144.60,245.50 v4.0" stroke="#2A78B8" stroke-width="1.0"/>
<path d="M215.50,247.5 h4.0 M217.50,245.50 v4.0" stroke="#2A78B8" stroke-width="1.0"/>
<line x1="138.5" y1="270" x2="145.5" y2="270" stroke="#2A78B8" stroke-width="1.0" />
<line x1="142.0" y1="268" x2="142.0" y2="272" stroke="#2A78B8" stroke-width="1.0" />
<text x="151.25" y="272.60" font-size="7.4" text-anchor="start" fill="#1e1e1e" stroke="#1e1e1e" stroke-width="0.14" textLength="13.17" lengthAdjust="spacingAndGlyphs" >Low</text>
<line x1="166.5" y1="270" x2="173.5" y2="270" stroke="#E6BD2C" stroke-width="1.0" />
<line x1="170.0" y1="268" x2="170.0" y2="272" stroke="#E6BD2C" stroke-width="1.0" />
<text x="178.75" y="272.60" font-size="7.4" text-anchor="start" fill="#1e1e1e" stroke="#1e1e1e" stroke-width="0.14" textLength="14.76" lengthAdjust="spacingAndGlyphs" >High</text>
<path d="M35.6,401.2 V442.6 H228.8" fill="none" stroke="#3a3a3a" stroke-width="1.2"/>
<line x1="13.8" y1="414" x2="29.8" y2="414" stroke="#2C5E9E" stroke-width="2.5" />
<text x="43.60" y="416.53" font-size="8.0" text-anchor="middle" fill="#1e1e1e" stroke="#1e1e1e" stroke-width="0.1" textLength="7.65" lengthAdjust="spacingAndGlyphs" >55</text>
<text x="93.30" y="416.53" font-size="8.0" text-anchor="middle" fill="#1e1e1e" stroke="#1e1e1e" stroke-width="0.1" textLength="7.65" lengthAdjust="spacingAndGlyphs" >21</text>
<text x="143.00" y="416.53" font-size="8.0" text-anchor="middle" fill="#1e1e1e" stroke="#1e1e1e" stroke-width="0.1" textLength="3.83" lengthAdjust="spacingAndGlyphs" >2</text>
<text x="193.30" y="416.53" font-size="8.0" text-anchor="middle" fill="#1e1e1e" stroke="#1e1e1e" stroke-width="0.1" textLength="3.83" lengthAdjust="spacingAndGlyphs" >1</text>
<line x1="13.8" y1="432" x2="29.8" y2="432" stroke="#CDB040" stroke-width="2.5" />
<text x="43.60" y="435.38" font-size="8.0" text-anchor="middle" fill="#1e1e1e" stroke="#1e1e1e" stroke-width="0.1" textLength="7.65" lengthAdjust="spacingAndGlyphs" >54</text>
<text x="93.30" y="435.38" font-size="8.0" text-anchor="middle" fill="#1e1e1e" stroke="#1e1e1e" stroke-width="0.1" textLength="7.65" lengthAdjust="spacingAndGlyphs" >12</text>
<text x="143.00" y="435.38" font-size="8.0" text-anchor="middle" fill="#1e1e1e" stroke="#1e1e1e" stroke-width="0.1" textLength="3.83" lengthAdjust="spacingAndGlyphs" >1</text>
<text x="193.30" y="435.38" font-size="8.0" text-anchor="middle" fill="#1e1e1e" stroke="#1e1e1e" stroke-width="0.1" textLength="3.83" lengthAdjust="spacingAndGlyphs" >0</text>
<text x="276.30" y="236.10" font-size="14.3" text-anchor="start" font-weight="bold" fill="#000" stroke="#000" stroke-width="0.18" textLength="10.33" lengthAdjust="spacingAndGlyphs" >D</text>
<path d="M317.3,238.3 V379.2 H514" fill="none" stroke="#3a3a3a" stroke-width="1.15"/>
<line x1="314.8" y1="244.4" x2="317.3" y2="244.4" stroke="#3a3a3a" stroke-width="1" />
<text x="312.70" y="247.00" font-size="7.5" text-anchor="end" fill="#1e1e1e" stroke="#1e1e1e" stroke-width="0.14" textLength="13.00" lengthAdjust="spacingAndGlyphs" >1.00</text>
<line x1="314.8" y1="276.575" x2="317.3" y2="276.575" stroke="#3a3a3a" stroke-width="1" />
<text x="312.70" y="279.18" font-size="7.5" text-anchor="end" fill="#1e1e1e" stroke="#1e1e1e" stroke-width="0.14" textLength="13.00" lengthAdjust="spacingAndGlyphs" >0.75</text>
<line x1="314.8" y1="308.75" x2="317.3" y2="308.75" stroke="#3a3a3a" stroke-width="1" />
<text x="312.70" y="311.35" font-size="7.5" text-anchor="end" fill="#1e1e1e" stroke="#1e1e1e" stroke-width="0.14" textLength="13.00" lengthAdjust="spacingAndGlyphs" >0.50</text>
<line x1="314.8" y1="340.925" x2="317.3" y2="340.925" stroke="#3a3a3a" stroke-width="1" />
<text x="312.70" y="343.53" font-size="7.5" text-anchor="end" fill="#1e1e1e" stroke="#1e1e1e" stroke-width="0.14" textLength="13.00" lengthAdjust="spacingAndGlyphs" >0.25</text>
<line x1="314.8" y1="373.1" x2="317.3" y2="373.1" stroke="#3a3a3a" stroke-width="1" />
<text x="312.70" y="375.70" font-size="7.5" text-anchor="end" fill="#1e1e1e" stroke="#1e1e1e" stroke-width="0.14" textLength="13.00" lengthAdjust="spacingAndGlyphs" >0.00</text>
<line x1="326.5" y1="379.2" x2="326.5" y2="381.4" stroke="#3a3a3a" stroke-width="1" />
<text x="326.50" y="388.80" font-size="7.5" text-anchor="middle" fill="#1e1e1e" stroke="#1e1e1e" stroke-width="0.14" textLength="3.63" lengthAdjust="spacingAndGlyphs" >0</text>
<line x1="383.0" y1="379.2" x2="383.0" y2="381.4" stroke="#3a3a3a" stroke-width="1" />
<text x="383.00" y="388.80" font-size="7.5" text-anchor="middle" fill="#1e1e1e" stroke="#1e1e1e" stroke-width="0.14" textLength="16.33" lengthAdjust="spacingAndGlyphs" >1,000</text>
<line x1="439.5" y1="379.2" x2="439.5" y2="381.4" stroke="#3a3a3a" stroke-width="1" />
<text x="439.50" y="388.80" font-size="7.5" text-anchor="middle" fill="#1e1e1e" stroke="#1e1e1e" stroke-width="0.14" textLength="16.33" lengthAdjust="spacingAndGlyphs" >2,000</text>
<line x1="496.0" y1="379.2" x2="496.0" y2="381.4" stroke="#3a3a3a" stroke-width="1" />
<text x="496.00" y="388.80" font-size="7.5" text-anchor="middle" fill="#1e1e1e" stroke="#1e1e1e" stroke-width="0.14" textLength="16.33" lengthAdjust="spacingAndGlyphs" >3,000</text>
<g transform="translate(293.15,303) rotate(-90)">
<text x="0.00" y="0.00" font-size="7.0" text-anchor="middle" font-weight="bold" fill="#1e1e1e" stroke="#1e1e1e" stroke-width="0.1" textLength="9.40" lengthAdjust="spacingAndGlyphs" >RFI</text>
</g>
<text x="410.20" y="401.10" font-size="7.3" text-anchor="middle" font-weight="bold" fill="#1e1e1e" stroke="#1e1e1e" stroke-width="0.1" textLength="53.50" lengthAdjust="spacingAndGlyphs" >Follow-up (days)</text>
<text x="320.60" y="367.20" font-size="7.4" text-anchor="start" fill="#1e1e1e" stroke="#1e1e1e" stroke-width="0.14" textLength="57.00" lengthAdjust="spacingAndGlyphs" >GSE29623 (<tspan font-style="italic">N</tspan> = 40)</text>
<text x="320.60" y="376.00" font-size="7.4" text-anchor="start" fill="#1e1e1e" stroke="#1e1e1e" stroke-width="0.14" textLength="94.30" lengthAdjust="spacingAndGlyphs" >HR, 2.73 (1.42–5.22), <tspan font-style="italic">P</tspan> = 0.002</text>
<path d="M327.3,243.8 H334.6 V251.2 H340 V263 H364.2 V271.5 H368 V279.2 H370.8 V288 H461.5 V331 H506.5" fill="none" stroke="#E6BD2C" stroke-width="1.3"/>
<path d="M350.00,263.0 h4.0 M352.00,261.00 v4.0" stroke="#E6BD2C" stroke-width="1.0"/>
<path d="M354.00,263.0 h4.0 M356.00,261.00 v4.0" stroke="#E6BD2C" stroke-width="1.0"/>
<path d="M358.00,263.0 h4.0 M360.00,261.00 v4.0" stroke="#E6BD2C" stroke-width="1.0"/>
<path d="M362.00,263.0 h4.0 M364.00,261.00 v4.0" stroke="#E6BD2C" stroke-width="1.0"/>
<path d="M367.00,279.2 h4.0 M369.00,277.20 v4.0" stroke="#E6BD2C" stroke-width="1.0"/>
<path d="M403.00,288.0 h4.0 M405.00,286.00 v4.0" stroke="#E6BD2C" stroke-width="1.0"/>
<path d="M410.00,288.0 h4.0 M412.00,286.00 v4.0" stroke="#E6BD2C" stroke-width="1.0"/>
<path d="M415.00,288.0 h4.0 M417.00,286.00 v4.0" stroke="#E6BD2C" stroke-width="1.0"/>
<path d="M422.00,288.0 h4.0 M424.00,286.00 v4.0" stroke="#E6BD2C" stroke-width="1.0"/>
<path d="M429.00,288.0 h4.0 M431.00,286.00 v4.0" stroke="#E6BD2C" stroke-width="1.0"/>
<path d="M435.00,288.0 h4.0 M437.00,286.00 v4.0" stroke="#E6BD2C" stroke-width="1.0"/>
<path d="M504.50,331.0 h4.0 M506.50,329.00 v4.0" stroke="#E6BD2C" stroke-width="1.0"/>
<path d="M327.3,243.8 H496.2" fill="none" stroke="#2A78B8" stroke-width="1.3"/>
<path d="M364.92,243.8 h4.0 M366.92,241.80 v4.0" stroke="#2A78B8" stroke-width="1.0"/>
<path d="M367.23,243.8 h4.0 M369.23,241.80 v4.0" stroke="#2A78B8" stroke-width="1.0"/>
<path d="M385.31,243.8 h4.0 M387.31,241.80 v4.0" stroke="#2A78B8" stroke-width="1.0"/>
<path d="M387.23,243.8 h4.0 M389.23,241.80 v4.0" stroke="#2A78B8" stroke-width="1.0"/>
<path d="M389.54,243.8 h4.0 M391.54,241.80 v4.0" stroke="#2A78B8" stroke-width="1.0"/>
<path d="M401.85,243.8 h4.0 M403.85,241.80 v4.0" stroke="#2A78B8" stroke-width="1.0"/>
<path d="M404.54,243.8 h4.0 M406.54,241.80 v4.0" stroke="#2A78B8" stroke-width="1.0"/>
<path d="M413.38,243.8 h4.0 M415.38,241.80 v4.0" stroke="#2A78B8" stroke-width="1.0"/>
<path d="M416.08,243.8 h4.0 M418.08,241.80 v4.0" stroke="#2A78B8" stroke-width="1.0"/>
<path d="M418.77,243.8 h4.0 M420.77,241.80 v4.0" stroke="#2A78B8" stroke-width="1.0"/>
<path d="M424.92,243.8 h4.0 M426.92,241.80 v4.0" stroke="#2A78B8" stroke-width="1.0"/>
<path d="M427.62,243.8 h4.0 M429.62,241.80 v4.0" stroke="#2A78B8" stroke-width="1.0"/>
<path d="M429.54,243.8 h4.0 M431.54,241.80 v4.0" stroke="#2A78B8" stroke-width="1.0"/>
<path d="M432.62,243.8 h4.0 M434.62,241.80 v4.0" stroke="#2A78B8" stroke-width="1.0"/>
<path d="M469.92,243.8 h4.0 M471.92,241.80 v4.0" stroke="#2A78B8" stroke-width="1.0"/>
<path d="M474.92,243.8 h4.0 M476.92,241.80 v4.0" stroke="#2A78B8" stroke-width="1.0"/>
<path d="M493.00,243.8 h4.0 M495.00,241.80 v4.0" stroke="#2A78B8" stroke-width="1.0"/>
<line x1="422" y1="266.5" x2="429.6" y2="266.5" stroke="#2A78B8" stroke-width="1.0" />
<line x1="425.8" y1="264.5" x2="425.8" y2="268.5" stroke="#2A78B8" stroke-width="1.0" />
<text x="435.40" y="269.10" font-size="7.4" text-anchor="start" fill="#1e1e1e" stroke="#1e1e1e" stroke-width="0.14" textLength="13.17" lengthAdjust="spacingAndGlyphs" >Low</text>
<line x1="450.8" y1="266.5" x2="458.4" y2="266.5" stroke="#E6BD2C" stroke-width="1.0" />
<line x1="454.6" y1="264.5" x2="454.6" y2="268.5" stroke="#E6BD2C" stroke-width="1.0" />
<text x="463.00" y="269.10" font-size="7.4" text-anchor="start" fill="#1e1e1e" stroke="#1e1e1e" stroke-width="0.14" textLength="14.76" lengthAdjust="spacingAndGlyphs" >High</text>
<path d="M320.2,400.6 V442.3 H514" fill="none" stroke="#3a3a3a" stroke-width="1.2"/>
<line x1="298.2" y1="413.2" x2="313.8" y2="413.2" stroke="#2C5E9E" stroke-width="2.5" />
<text x="327.90" y="416.38" font-size="8.0" text-anchor="middle" fill="#1e1e1e" stroke="#1e1e1e" stroke-width="0.1" textLength="7.65" lengthAdjust="spacingAndGlyphs" >20</text>
<text x="379.50" y="416.38" font-size="8.0" text-anchor="middle" fill="#1e1e1e" stroke="#1e1e1e" stroke-width="0.1" textLength="7.65" lengthAdjust="spacingAndGlyphs" >17</text>
<text x="437.50" y="416.38" font-size="8.0" text-anchor="middle" fill="#1e1e1e" stroke="#1e1e1e" stroke-width="0.1" textLength="3.83" lengthAdjust="spacingAndGlyphs" >3</text>
<text x="495.20" y="416.38" font-size="8.0" text-anchor="middle" fill="#1e1e1e" stroke="#1e1e1e" stroke-width="0.1" textLength="3.83" lengthAdjust="spacingAndGlyphs" >0</text>
<line x1="298.2" y1="431.5" x2="313.8" y2="431.5" stroke="#CDB040" stroke-width="2.5" />
<text x="327.90" y="435.28" font-size="8.0" text-anchor="middle" fill="#1e1e1e" stroke="#1e1e1e" stroke-width="0.1" textLength="7.65" lengthAdjust="spacingAndGlyphs" >20</text>
<text x="379.50" y="435.28" font-size="8.0" text-anchor="middle" fill="#1e1e1e" stroke="#1e1e1e" stroke-width="0.1" textLength="3.83" lengthAdjust="spacingAndGlyphs" >9</text>
<text x="437.50" y="435.28" font-size="8.0" text-anchor="middle" fill="#1e1e1e" stroke="#1e1e1e" stroke-width="0.1" textLength="3.83" lengthAdjust="spacingAndGlyphs" >2</text>
<text x="495.20" y="435.28" font-size="8.0" text-anchor="middle" fill="#1e1e1e" stroke="#1e1e1e" stroke-width="0.1" textLength="3.83" lengthAdjust="spacingAndGlyphs" >1</text>
<text x="1.00" y="475.70" font-size="14.3" text-anchor="start" font-weight="bold" fill="#000" stroke="#000" stroke-width="0.18" textLength="9.54" lengthAdjust="spacingAndGlyphs" >E</text>
<path d="M33.4,477.3 V624.5 H232" fill="none" stroke="#3a3a3a" stroke-width="1.15"/>
<line x1="30.9" y1="483.5" x2="33.4" y2="483.5" stroke="#3a3a3a" stroke-width="1" />
<text x="28.80" y="486.10" font-size="7.5" text-anchor="end" fill="#1e1e1e" stroke="#1e1e1e" stroke-width="0.14" textLength="13.00" lengthAdjust="spacingAndGlyphs" >1.00</text>
<line x1="30.9" y1="517.15" x2="33.4" y2="517.15" stroke="#3a3a3a" stroke-width="1" />
<text x="28.80" y="519.75" font-size="7.5" text-anchor="end" fill="#1e1e1e" stroke="#1e1e1e" stroke-width="0.14" textLength="13.00" lengthAdjust="spacingAndGlyphs" >0.75</text>
<line x1="30.9" y1="550.8" x2="33.4" y2="550.8" stroke="#3a3a3a" stroke-width="1" />
<text x="28.80" y="553.40" font-size="7.5" text-anchor="end" fill="#1e1e1e" stroke="#1e1e1e" stroke-width="0.14" textLength="13.00" lengthAdjust="spacingAndGlyphs" >0.50</text>
<line x1="30.9" y1="584.45" x2="33.4" y2="584.45" stroke="#3a3a3a" stroke-width="1" />
<text x="28.80" y="587.05" font-size="7.5" text-anchor="end" fill="#1e1e1e" stroke="#1e1e1e" stroke-width="0.14" textLength="13.00" lengthAdjust="spacingAndGlyphs" >0.25</text>
<line x1="30.9" y1="618.1" x2="33.4" y2="618.1" stroke="#3a3a3a" stroke-width="1" />
<text x="28.80" y="620.70" font-size="7.5" text-anchor="end" fill="#1e1e1e" stroke="#1e1e1e" stroke-width="0.14" textLength="13.00" lengthAdjust="spacingAndGlyphs" >0.00</text>
<line x1="42.5" y1="624.5" x2="42.5" y2="626.7" stroke="#3a3a3a" stroke-width="1" />
<text x="42.50" y="634.10" font-size="7.5" text-anchor="middle" fill="#1e1e1e" stroke="#1e1e1e" stroke-width="0.14" textLength="3.63" lengthAdjust="spacingAndGlyphs" >0</text>
<line x1="85.15" y1="624.5" x2="85.15" y2="626.7" stroke="#3a3a3a" stroke-width="1" />
<text x="85.15" y="634.10" font-size="7.5" text-anchor="middle" fill="#1e1e1e" stroke="#1e1e1e" stroke-width="0.14" textLength="16.33" lengthAdjust="spacingAndGlyphs" >1,000</text>
<line x1="127.8" y1="624.5" x2="127.8" y2="626.7" stroke="#3a3a3a" stroke-width="1" />
<text x="127.80" y="634.10" font-size="7.5" text-anchor="middle" fill="#1e1e1e" stroke="#1e1e1e" stroke-width="0.14" textLength="16.33" lengthAdjust="spacingAndGlyphs" >2,000</text>
<line x1="170.45" y1="624.5" x2="170.45" y2="626.7" stroke="#3a3a3a" stroke-width="1" />
<text x="170.45" y="634.10" font-size="7.5" text-anchor="middle" fill="#1e1e1e" stroke="#1e1e1e" stroke-width="0.14" textLength="16.33" lengthAdjust="spacingAndGlyphs" >3,000</text>
<line x1="213.1" y1="624.5" x2="213.1" y2="626.7" stroke="#3a3a3a" stroke-width="1" />
<text x="213.10" y="634.10" font-size="7.5" text-anchor="middle" fill="#1e1e1e" stroke="#1e1e1e" stroke-width="0.14" textLength="16.33" lengthAdjust="spacingAndGlyphs" >4,000</text>
<g transform="translate(10.350000000000001,548.4) rotate(-90)">
<text x="0.00" y="0.00" font-size="7.0" text-anchor="middle" font-weight="bold" fill="#1e1e1e" stroke="#1e1e1e" stroke-width="0.1" textLength="9.40" lengthAdjust="spacingAndGlyphs" >RFI</text>
</g>
<text x="131.80" y="642.80" font-size="7.3" text-anchor="middle" font-weight="bold" fill="#1e1e1e" stroke="#1e1e1e" stroke-width="0.1" textLength="53.50" lengthAdjust="spacingAndGlyphs" >Follow-up (days)</text>
<text x="36.00" y="609.60" font-size="7.4" text-anchor="start" fill="#1e1e1e" stroke="#1e1e1e" stroke-width="0.14" textLength="36.00" lengthAdjust="spacingAndGlyphs" >TCGA-HiSeq</text>
<text x="36.00" y="620.40" font-size="7.4" text-anchor="start" fill="#1e1e1e" stroke="#1e1e1e" stroke-width="0.14" textLength="24.60" lengthAdjust="spacingAndGlyphs" ><tspan font-style="italic">P</tspan> = 0.03</text>
<path d="M42.7,483.3 H54 V486 H63.8 V489.4 H67.7 V494.2 H69.6 V501 H73.5 V506.7 H78.3 V513.5 H223" fill="none" stroke="#C6C6C6" stroke-width="1.1"/>
<path d="M64.50,489.4 h3.0 M66.00,487.90 v3.0" stroke="#C6C6C6" stroke-width="1.0"/>
<path d="M70.50,501.0 h3.0 M72.00,499.50 v3.0" stroke="#C6C6C6" stroke-width="1.0"/>
<path d="M84.50,513.5 h3.0 M86.00,512.00 v3.0" stroke="#C6C6C6" stroke-width="1.0"/>
<path d="M98.50,513.5 h3.0 M100.00,512.00 v3.0" stroke="#C6C6C6" stroke-width="1.0"/>
<path d="M113.90,513.5 h3.0 M115.40,512.00 v3.0" stroke="#C6C6C6" stroke-width="1.0"/>
<path d="M130.80,513.5 h3.0 M132.30,512.00 v3.0" stroke="#C6C6C6" stroke-width="1.0"/>
<path d="M147.70,513.5 h3.0 M149.20,512.00 v3.0" stroke="#C6C6C6" stroke-width="1.0"/>
<path d="M163.10,513.5 h3.0 M164.60,512.00 v3.0" stroke="#C6C6C6" stroke-width="1.0"/>
<path d="M177.00,513.5 h3.0 M178.50,512.00 v3.0" stroke="#C6C6C6" stroke-width="1.0"/>
<path d="M190.80,513.5 h3.0 M192.30,512.00 v3.0" stroke="#C6C6C6" stroke-width="1.0"/>
<path d="M207.70,513.5 h3.0 M209.20,512.00 v3.0" stroke="#C6C6C6" stroke-width="1.0"/>
<path d="M221.50,513.5 h3.0 M223.00,512.00 v3.0" stroke="#C6C6C6" stroke-width="1.0"/>
<path d="M42.7,483.3 H44 V487 H46.5 V491.3 H50 V495 H54.2 V500 H56 V505 H57.1 V509.6 H59 V511.5 H62.9 V513.5 H65.8 V517.3 H66.7 V528 H75.4 V535.4 H105.5 V544.6 H123 V557 H138.5 V569.2 H150.8 V581 H222.5" fill="none" stroke="#E6BD2C" stroke-width="1.15"/>
<path d="M46.50,491.3 h3.0 M48.00,489.80 v3.0" stroke="#E6BD2C" stroke-width="1.0"/>
<path d="M50.50,495.0 h3.0 M52.00,493.50 v3.0" stroke="#E6BD2C" stroke-width="1.0"/>
<path d="M58.50,511.5 h3.0 M60.00,510.00 v3.0" stroke="#E6BD2C" stroke-width="1.0"/>
<path d="M62.50,513.5 h3.0 M64.00,512.00 v3.0" stroke="#E6BD2C" stroke-width="1.0"/>
<path d="M70.50,528.0 h3.0 M72.00,526.50 v3.0" stroke="#E6BD2C" stroke-width="1.0"/>
<path d="M93.50,535.4 h3.0 M95.00,533.90 v3.0" stroke="#E6BD2C" stroke-width="1.0"/>
<path d="M113.50,544.6 h3.0 M115.00,543.10 v3.0" stroke="#E6BD2C" stroke-width="1.0"/>
<path d="M148.50,569.2 h3.0 M150.00,567.70 v3.0" stroke="#E6BD2C" stroke-width="1.0"/>
<path d="M183.50,581.0 h3.0 M185.00,579.50 v3.0" stroke="#E6BD2C" stroke-width="1.0"/>
<path d="M221.00,581.0 h3.0 M222.50,579.50 v3.0" stroke="#E6BD2C" stroke-width="1.0"/>
<path d="M42.7,483.3 H53.3 V500 H55.5 V511 H57.7 V518.3 H59 V524 H62.9 V534.2 H84.6 V550.8 H129.2" fill="none" stroke="#474747" stroke-width="1.15"/>
<path d="M48.50,483.3 h3.0 M50.00,481.80 v3.0" stroke="#474747" stroke-width="1.0"/>
<path d="M58.50,524.0 h3.0 M60.00,522.50 v3.0" stroke="#474747" stroke-width="1.0"/>
<path d="M68.50,534.2 h3.0 M70.00,532.70 v3.0" stroke="#474747" stroke-width="1.0"/>
<path d="M93.50,550.8 h3.0 M95.00,549.30 v3.0" stroke="#474747" stroke-width="1.0"/>
<path d="M103.50,550.8 h3.0 M105.00,549.30 v3.0" stroke="#474747" stroke-width="1.0"/>
<path d="M113.50,550.8 h3.0 M115.00,549.30 v3.0" stroke="#474747" stroke-width="1.0"/>
<path d="M127.70,550.8 h3.0 M129.20,549.30 v3.0" stroke="#474747" stroke-width="1.0"/>
<path d="M42.7,483.3 H49.4 V486 H52 V489.4 H61 V511 H113.5 V618.1" fill="none" stroke="#2A78B8" stroke-width="1.2"/>
<path d="M44.50,483.3 h3.0 M46.00,481.80 v3.0" stroke="#2A78B8" stroke-width="1.0"/>
<path d="M48.50,486.0 h3.0 M50.00,484.50 v3.0" stroke="#2A78B8" stroke-width="1.0"/>
<path d="M53.50,489.4 h3.0 M55.00,487.90 v3.0" stroke="#2A78B8" stroke-width="1.0"/>
<path d="M55.50,489.4 h3.0 M57.00,487.90 v3.0" stroke="#2A78B8" stroke-width="1.0"/>
<path d="M65.20,511.0 h3.0 M66.70,509.50 v3.0" stroke="#2A78B8" stroke-width="1.0"/>
<path d="M85.40,511.0 h3.0 M86.90,509.50 v3.0" stroke="#2A78B8" stroke-width="1.0"/>
<path d="M96.00,511.0 h3.0 M97.50,509.50 v3.0" stroke="#2A78B8" stroke-width="1.0"/>
<line x1="158.5" y1="527.2" x2="168.5" y2="527.2" stroke="#E6BD2C" stroke-width="1.0" />
<text x="172.30" y="529.80" font-size="7.4" text-anchor="start" fill="#1e1e1e" stroke="#1e1e1e" stroke-width="0.14" textLength="48.96" lengthAdjust="spacingAndGlyphs" >Non-CMS4 high</text>
<line x1="158.5" y1="541.1" x2="168.5" y2="541.1" stroke="#C6C6C6" stroke-width="1.0" />
<text x="172.30" y="543.70" font-size="7.4" text-anchor="start" fill="#1e1e1e" stroke="#1e1e1e" stroke-width="0.14" textLength="46.28" lengthAdjust="spacingAndGlyphs" >Non-CMS4 low</text>
<line x1="158.5" y1="554.6" x2="168.5" y2="554.6" stroke="#474747" stroke-width="1.0" />
<line x1="163.5" y1="552.6" x2="163.5" y2="556.6" stroke="#474747" stroke-width="1.0" />
<text x="172.30" y="557.20" font-size="7.4" text-anchor="start" fill="#1e1e1e" stroke="#1e1e1e" stroke-width="0.14" textLength="34.04" lengthAdjust="spacingAndGlyphs" >CMS4 high</text>
<line x1="158.5" y1="566" x2="168.5" y2="566" stroke="#2A78B8" stroke-width="1.0" />
<line x1="163.5" y1="564" x2="163.5" y2="568" stroke="#2A78B8" stroke-width="1.0" />
<text x="172.30" y="568.60" font-size="7.4" text-anchor="start" fill="#1e1e1e" stroke="#1e1e1e" stroke-width="0.14" textLength="31.36" lengthAdjust="spacingAndGlyphs" >CMS4 low</text>
<path d="M31.4,646 V698 H231" fill="none" stroke="#3a3a3a" stroke-width="1.2"/>
<line x1="10.6" y1="654" x2="26.4" y2="654" stroke="#2F62A6" stroke-width="2.5" />
<text x="40.80" y="657.05" font-size="8.2" text-anchor="middle" fill="#1e1e1e" stroke="#1e1e1e" stroke-width="0.1" textLength="8.57" lengthAdjust="spacingAndGlyphs" >50</text>
<text x="85.10" y="657.05" font-size="8.2" text-anchor="middle" fill="#1e1e1e" stroke="#1e1e1e" stroke-width="0.1" textLength="8.57" lengthAdjust="spacingAndGlyphs" >16</text>
<text x="126.90" y="657.05" font-size="8.2" text-anchor="middle" fill="#1e1e1e" stroke="#1e1e1e" stroke-width="0.1" textLength="4.29" lengthAdjust="spacingAndGlyphs" >7</text>
<text x="169.10" y="657.05" font-size="8.2" text-anchor="middle" fill="#1e1e1e" stroke="#1e1e1e" stroke-width="0.1" textLength="4.29" lengthAdjust="spacingAndGlyphs" >4</text>
<text x="211.50" y="657.05" font-size="8.2" text-anchor="middle" fill="#1e1e1e" stroke="#1e1e1e" stroke-width="0.1" textLength="4.29" lengthAdjust="spacingAndGlyphs" >3</text>
<line x1="10.6" y1="665.7" x2="26.4" y2="665.7" stroke="#DDBE30" stroke-width="2.5" />
<text x="40.80" y="668.95" font-size="8.2" text-anchor="middle" fill="#1e1e1e" stroke="#1e1e1e" stroke-width="0.1" textLength="8.57" lengthAdjust="spacingAndGlyphs" >46</text>
<text x="85.10" y="668.95" font-size="8.2" text-anchor="middle" fill="#1e1e1e" stroke="#1e1e1e" stroke-width="0.1" textLength="8.00" lengthAdjust="spacingAndGlyphs" >11</text>
<text x="126.90" y="668.95" font-size="8.2" text-anchor="middle" fill="#1e1e1e" stroke="#1e1e1e" stroke-width="0.1" textLength="4.29" lengthAdjust="spacingAndGlyphs" >5</text>
<text x="169.10" y="668.95" font-size="8.2" text-anchor="middle" fill="#1e1e1e" stroke="#1e1e1e" stroke-width="0.1" textLength="4.29" lengthAdjust="spacingAndGlyphs" >3</text>
<text x="211.50" y="668.95" font-size="8.2" text-anchor="middle" fill="#1e1e1e" stroke="#1e1e1e" stroke-width="0.1" textLength="4.29" lengthAdjust="spacingAndGlyphs" >1</text>
<line x1="10.6" y1="678.4" x2="26.4" y2="678.4" stroke="#9a9a9a" stroke-width="2.5" />
<text x="40.80" y="681.15" font-size="8.2" text-anchor="middle" fill="#1e1e1e" stroke="#1e1e1e" stroke-width="0.1" textLength="8.57" lengthAdjust="spacingAndGlyphs" >22</text>
<text x="85.10" y="681.15" font-size="8.2" text-anchor="middle" fill="#1e1e1e" stroke="#1e1e1e" stroke-width="0.1" textLength="4.29" lengthAdjust="spacingAndGlyphs" >3</text>
<text x="126.90" y="681.15" font-size="8.2" text-anchor="middle" fill="#1e1e1e" stroke="#1e1e1e" stroke-width="0.1" textLength="4.29" lengthAdjust="spacingAndGlyphs" >0</text>
<text x="169.10" y="681.15" font-size="8.2" text-anchor="middle" fill="#1e1e1e" stroke="#1e1e1e" stroke-width="0.1" textLength="4.29" lengthAdjust="spacingAndGlyphs" >0</text>
<text x="211.50" y="681.15" font-size="8.2" text-anchor="middle" fill="#1e1e1e" stroke="#1e1e1e" stroke-width="0.1" textLength="4.29" lengthAdjust="spacingAndGlyphs" >0</text>
<line x1="10.6" y1="690" x2="26.4" y2="690" stroke="#505050" stroke-width="2.5" />
<text x="40.80" y="693.05" font-size="8.2" text-anchor="middle" fill="#1e1e1e" stroke="#1e1e1e" stroke-width="0.1" textLength="8.57" lengthAdjust="spacingAndGlyphs" >27</text>
<text x="85.10" y="693.05" font-size="8.2" text-anchor="middle" fill="#1e1e1e" stroke="#1e1e1e" stroke-width="0.1" textLength="4.29" lengthAdjust="spacingAndGlyphs" >5</text>
<text x="126.90" y="693.05" font-size="8.2" text-anchor="middle" fill="#1e1e1e" stroke="#1e1e1e" stroke-width="0.1" textLength="4.29" lengthAdjust="spacingAndGlyphs" >1</text>
<text x="169.10" y="693.05" font-size="8.2" text-anchor="middle" fill="#1e1e1e" stroke="#1e1e1e" stroke-width="0.1" textLength="4.29" lengthAdjust="spacingAndGlyphs" >0</text>
<text x="211.50" y="693.05" font-size="8.2" text-anchor="middle" fill="#1e1e1e" stroke="#1e1e1e" stroke-width="0.1" textLength="4.29" lengthAdjust="spacingAndGlyphs" >0</text>
<text x="276.60" y="475.30" font-size="14.3" text-anchor="start" font-weight="bold" fill="#000" stroke="#000" stroke-width="0.18" textLength="8.74" lengthAdjust="spacingAndGlyphs" >F</text>
<path d="M316.7,477.3 V624.3 H514.2" fill="none" stroke="#3a3a3a" stroke-width="1.15"/>
<line x1="314.2" y1="483.8" x2="316.7" y2="483.8" stroke="#3a3a3a" stroke-width="1" />
<text x="312.10" y="486.40" font-size="7.5" text-anchor="end" fill="#1e1e1e" stroke="#1e1e1e" stroke-width="0.14" textLength="13.00" lengthAdjust="spacingAndGlyphs" >1.00</text>
<line x1="314.2" y1="517.375" x2="316.7" y2="517.375" stroke="#3a3a3a" stroke-width="1" />
<text x="312.10" y="519.98" font-size="7.5" text-anchor="end" fill="#1e1e1e" stroke="#1e1e1e" stroke-width="0.14" textLength="13.00" lengthAdjust="spacingAndGlyphs" >0.75</text>
<line x1="314.2" y1="550.95" x2="316.7" y2="550.95" stroke="#3a3a3a" stroke-width="1" />
<text x="312.10" y="553.55" font-size="7.5" text-anchor="end" fill="#1e1e1e" stroke="#1e1e1e" stroke-width="0.14" textLength="13.00" lengthAdjust="spacingAndGlyphs" >0.50</text>
<line x1="314.2" y1="584.525" x2="316.7" y2="584.525" stroke="#3a3a3a" stroke-width="1" />
<text x="312.10" y="587.12" font-size="7.5" text-anchor="end" fill="#1e1e1e" stroke="#1e1e1e" stroke-width="0.14" textLength="13.00" lengthAdjust="spacingAndGlyphs" >0.25</text>
<line x1="314.2" y1="618.1" x2="316.7" y2="618.1" stroke="#3a3a3a" stroke-width="1" />
<text x="312.10" y="620.70" font-size="7.5" text-anchor="end" fill="#1e1e1e" stroke="#1e1e1e" stroke-width="0.14" textLength="13.00" lengthAdjust="spacingAndGlyphs" >0.00</text>
<line x1="325.6" y1="624.3" x2="325.6" y2="626.5" stroke="#3a3a3a" stroke-width="1" />
<text x="325.60" y="633.90" font-size="7.5" text-anchor="middle" fill="#1e1e1e" stroke="#1e1e1e" stroke-width="0.14" textLength="3.63" lengthAdjust="spacingAndGlyphs" >0</text>
<line x1="376.0" y1="624.3" x2="376.0" y2="626.5" stroke="#3a3a3a" stroke-width="1" />
<text x="376.00" y="633.90" font-size="7.5" text-anchor="middle" fill="#1e1e1e" stroke="#1e1e1e" stroke-width="0.14" textLength="16.33" lengthAdjust="spacingAndGlyphs" >1,000</text>
<line x1="426.40000000000003" y1="624.3" x2="426.40000000000003" y2="626.5" stroke="#3a3a3a" stroke-width="1" />
<text x="426.40" y="633.90" font-size="7.5" text-anchor="middle" fill="#1e1e1e" stroke="#1e1e1e" stroke-width="0.14" textLength="16.33" lengthAdjust="spacingAndGlyphs" >2,000</text>
<line x1="476.8" y1="624.3" x2="476.8" y2="626.5" stroke="#3a3a3a" stroke-width="1" />
<text x="476.80" y="633.90" font-size="7.5" text-anchor="middle" fill="#1e1e1e" stroke="#1e1e1e" stroke-width="0.14" textLength="16.33" lengthAdjust="spacingAndGlyphs" >3,000</text>
<g transform="translate(294.15,549) rotate(-90)">
<text x="0.00" y="0.00" font-size="7.0" text-anchor="middle" font-weight="bold" fill="#1e1e1e" stroke="#1e1e1e" stroke-width="0.1" textLength="9.40" lengthAdjust="spacingAndGlyphs" >RFI</text>
</g>
<text x="414.70" y="643.00" font-size="7.3" text-anchor="middle" font-weight="bold" fill="#1e1e1e" stroke="#1e1e1e" stroke-width="0.1" textLength="53.50" lengthAdjust="spacingAndGlyphs" >Follow-up (days)</text>
<text x="320.70" y="609.60" font-size="7.4" text-anchor="start" fill="#1e1e1e" stroke="#1e1e1e" stroke-width="0.14" textLength="27.00" lengthAdjust="spacingAndGlyphs" >TCGA-GA</text>
<text x="320.70" y="620.20" font-size="7.4" text-anchor="start" fill="#1e1e1e" stroke="#1e1e1e" stroke-width="0.14" textLength="31.00" lengthAdjust="spacingAndGlyphs" ><tspan font-style="italic">P</tspan> = 0.001</text>
<path d="M326.7,483.7 H342 V487.5 H505" fill="none" stroke="#C6C6C6" stroke-width="1.1"/>
<path d="M346.50,487.5 h3.0 M348.00,486.00 v3.0" stroke="#C6C6C6" stroke-width="1.0"/>
<path d="M350.50,487.5 h3.0 M352.00,486.00 v3.0" stroke="#C6C6C6" stroke-width="1.0"/>
<path d="M354.50,487.5 h3.0 M356.00,486.00 v3.0" stroke="#C6C6C6" stroke-width="1.0"/>
<path d="M358.50,487.5 h3.0 M360.00,486.00 v3.0" stroke="#C6C6C6" stroke-width="1.0"/>
<path d="M368.50,487.5 h3.0 M370.00,486.00 v3.0" stroke="#C6C6C6" stroke-width="1.0"/>
<path d="M378.50,487.5 h3.0 M380.00,486.00 v3.0" stroke="#C6C6C6" stroke-width="1.0"/>
<path d="M388.50,487.5 h3.0 M390.00,486.00 v3.0" stroke="#C6C6C6" stroke-width="1.0"/>
<path d="M398.50,487.5 h3.0 M400.00,486.00 v3.0" stroke="#C6C6C6" stroke-width="1.0"/>
<path d="M408.50,487.5 h3.0 M410.00,486.00 v3.0" stroke="#C6C6C6" stroke-width="1.0"/>
<path d="M418.50,487.5 h3.0 M420.00,486.00 v3.0" stroke="#C6C6C6" stroke-width="1.0"/>
<path d="M438.50,487.5 h3.0 M440.00,486.00 v3.0" stroke="#C6C6C6" stroke-width="1.0"/>
<path d="M458.50,487.5 h3.0 M460.00,486.00 v3.0" stroke="#C6C6C6" stroke-width="1.0"/>
<path d="M478.50,487.5 h3.0 M480.00,486.00 v3.0" stroke="#C6C6C6" stroke-width="1.0"/>
<path d="M503.50,487.5 h3.0 M505.00,486.00 v3.0" stroke="#C6C6C6" stroke-width="1.0"/>
<path d="M326.7,483.7 H329 V486 H331.5 V488.5 H333 V491 H334.4 V494.2 H344 V497 H345.5 V500 H347 V502.9 H350.8 V505.8 H355.6 V508 H356.5 V512 H363.3 V517 H364.5 V525 H366 V530.8 H379.6 V540.4 H382.5 V553.5 H455" fill="none" stroke="#E6BD2C" stroke-width="1.15"/>
<path d="M330.50,488.5 h3.0 M332.00,487.00 v3.0" stroke="#E6BD2C" stroke-width="1.0"/>
<path d="M338.50,494.2 h3.0 M340.00,492.70 v3.0" stroke="#E6BD2C" stroke-width="1.0"/>
<path d="M350.50,505.8 h3.0 M352.00,504.30 v3.0" stroke="#E6BD2C" stroke-width="1.0"/>
<path d="M358.50,512.0 h3.0 M360.00,510.50 v3.0" stroke="#E6BD2C" stroke-width="1.0"/>
<path d="M368.50,530.8 h3.0 M370.00,529.30 v3.0" stroke="#E6BD2C" stroke-width="1.0"/>
<path d="M373.50,530.8 h3.0 M375.00,529.30 v3.0" stroke="#E6BD2C" stroke-width="1.0"/>
<path d="M403.50,553.5 h3.0 M405.00,552.00 v3.0" stroke="#E6BD2C" stroke-width="1.0"/>
<path d="M408.50,553.5 h3.0 M410.00,552.00 v3.0" stroke="#E6BD2C" stroke-width="1.0"/>
<path d="M453.50,553.5 h3.0 M455.00,552.00 v3.0" stroke="#E6BD2C" stroke-width="1.0"/>
<path d="M326.7,483.7 H335.4 V493.7 H364.6 V555.4 H373.8" fill="none" stroke="#474747" stroke-width="1.15"/>
<path d="M334.50,493.7 h3.0 M336.00,492.20 v3.0" stroke="#474747" stroke-width="1.0"/>
<path d="M343.50,493.7 h3.0 M345.00,492.20 v3.0" stroke="#474747" stroke-width="1.0"/>
<path d="M348.50,493.7 h3.0 M350.00,492.20 v3.0" stroke="#474747" stroke-width="1.0"/>
<path d="M352.50,493.7 h3.0 M354.00,492.20 v3.0" stroke="#474747" stroke-width="1.0"/>
<path d="M366.50,555.4 h3.0 M368.00,553.90 v3.0" stroke="#474747" stroke-width="1.0"/>
<path d="M372.30,555.4 h3.0 M373.80,553.90 v3.0" stroke="#474747" stroke-width="1.0"/>
<path d="M326.7,483.7 H430" fill="none" stroke="#2A78B8" stroke-width="1.2"/>
<path d="M335.81,483.7 h3.0 M337.31,482.20 v3.0" stroke="#2A78B8" stroke-width="1.0"/>
<path d="M340.62,483.7 h3.0 M342.12,482.20 v3.0" stroke="#2A78B8" stroke-width="1.0"/>
<path d="M347.35,483.7 h3.0 M348.85,482.20 v3.0" stroke="#2A78B8" stroke-width="1.0"/>
<path d="M350.23,483.7 h3.0 M351.73,482.20 v3.0" stroke="#2A78B8" stroke-width="1.0"/>
<path d="M355.04,483.7 h3.0 M356.54,482.20 v3.0" stroke="#2A78B8" stroke-width="1.0"/>
<path d="M378.50,483.7 h3.0 M380.00,482.20 v3.0" stroke="#2A78B8" stroke-width="1.0"/>
<path d="M397.73,483.7 h3.0 M399.23,482.20 v3.0" stroke="#2A78B8" stroke-width="1.0"/>
<path d="M428.50,483.7 h3.0 M430.00,482.20 v3.0" stroke="#2A78B8" stroke-width="1.0"/>
<line x1="442.5" y1="499" x2="452.5" y2="499" stroke="#E6BD2C" stroke-width="1.0" />
<text x="456.00" y="501.60" font-size="7.4" text-anchor="start" fill="#1e1e1e" stroke="#1e1e1e" stroke-width="0.14" textLength="48.96" lengthAdjust="spacingAndGlyphs" >Non-CMS4 high</text>
<line x1="442.5" y1="513" x2="452.5" y2="513" stroke="#C6C6C6" stroke-width="1.0" />
<text x="456.00" y="515.60" font-size="7.4" text-anchor="start" fill="#1e1e1e" stroke="#1e1e1e" stroke-width="0.14" textLength="46.28" lengthAdjust="spacingAndGlyphs" >Non-CMS4 low</text>
<line x1="442.5" y1="526" x2="452.5" y2="526" stroke="#474747" stroke-width="1.0" />
<line x1="447.5" y1="524" x2="447.5" y2="528" stroke="#474747" stroke-width="1.0" />
<text x="456.00" y="528.60" font-size="7.4" text-anchor="start" fill="#1e1e1e" stroke="#1e1e1e" stroke-width="0.14" textLength="34.04" lengthAdjust="spacingAndGlyphs" >CMS4 high</text>
<line x1="442.5" y1="538" x2="452.5" y2="538" stroke="#2A78B8" stroke-width="1.0" />
<line x1="447.5" y1="536" x2="447.5" y2="540" stroke="#2A78B8" stroke-width="1.0" />
<text x="456.00" y="540.60" font-size="7.4" text-anchor="start" fill="#1e1e1e" stroke="#1e1e1e" stroke-width="0.14" textLength="31.36" lengthAdjust="spacingAndGlyphs" >CMS4 low</text>
<path d="M315.6,643.5 V696 H517" fill="none" stroke="#3a3a3a" stroke-width="1.2"/>
<line x1="295.5" y1="652" x2="311.2" y2="652" stroke="#2F62A6" stroke-width="2.5" />
<text x="325.20" y="654.85" font-size="8.2" text-anchor="middle" fill="#1e1e1e" stroke="#1e1e1e" stroke-width="0.1" textLength="8.57" lengthAdjust="spacingAndGlyphs" >41</text>
<text x="377.20" y="654.85" font-size="8.2" text-anchor="middle" fill="#1e1e1e" stroke="#1e1e1e" stroke-width="0.1" textLength="8.57" lengthAdjust="spacingAndGlyphs" >15</text>
<text x="427.10" y="654.85" font-size="8.2" text-anchor="middle" fill="#1e1e1e" stroke="#1e1e1e" stroke-width="0.1" textLength="4.29" lengthAdjust="spacingAndGlyphs" >1</text>
<text x="476.70" y="654.85" font-size="8.2" text-anchor="middle" fill="#1e1e1e" stroke="#1e1e1e" stroke-width="0.1" textLength="4.29" lengthAdjust="spacingAndGlyphs" >1</text>
<line x1="295.5" y1="664.2" x2="311.2" y2="664.2" stroke="#DDBE30" stroke-width="2.5" />
<text x="325.20" y="666.95" font-size="8.2" text-anchor="middle" fill="#1e1e1e" stroke="#1e1e1e" stroke-width="0.1" textLength="8.57" lengthAdjust="spacingAndGlyphs" >39</text>
<text x="377.20" y="666.95" font-size="8.2" text-anchor="middle" fill="#1e1e1e" stroke="#1e1e1e" stroke-width="0.1" textLength="8.00" lengthAdjust="spacingAndGlyphs" >11</text>
<text x="427.10" y="666.95" font-size="8.2" text-anchor="middle" fill="#1e1e1e" stroke="#1e1e1e" stroke-width="0.1" textLength="4.29" lengthAdjust="spacingAndGlyphs" >1</text>
<text x="476.70" y="666.95" font-size="8.2" text-anchor="middle" fill="#1e1e1e" stroke="#1e1e1e" stroke-width="0.1" textLength="4.29" lengthAdjust="spacingAndGlyphs" >0</text>
<line x1="295.5" y1="676.3" x2="311.2" y2="676.3" stroke="#9a9a9a" stroke-width="2.5" />
<text x="325.20" y="679.35" font-size="8.2" text-anchor="middle" fill="#1e1e1e" stroke="#1e1e1e" stroke-width="0.1" textLength="8.57" lengthAdjust="spacingAndGlyphs" >10</text>
<text x="377.20" y="679.35" font-size="8.2" text-anchor="middle" fill="#1e1e1e" stroke="#1e1e1e" stroke-width="0.1" textLength="4.29" lengthAdjust="spacingAndGlyphs" >4</text>
<text x="427.10" y="679.35" font-size="8.2" text-anchor="middle" fill="#1e1e1e" stroke="#1e1e1e" stroke-width="0.1" textLength="4.29" lengthAdjust="spacingAndGlyphs" >1</text>
<text x="476.70" y="679.35" font-size="8.2" text-anchor="middle" fill="#1e1e1e" stroke="#1e1e1e" stroke-width="0.1" textLength="4.29" lengthAdjust="spacingAndGlyphs" >0</text>
<line x1="295.5" y1="688.5" x2="311.2" y2="688.5" stroke="#505050" stroke-width="2.5" />
<text x="325.20" y="691.25" font-size="8.2" text-anchor="middle" fill="#1e1e1e" stroke="#1e1e1e" stroke-width="0.1" textLength="8.57" lengthAdjust="spacingAndGlyphs" >14</text>
<text x="377.20" y="691.25" font-size="8.2" text-anchor="middle" fill="#1e1e1e" stroke="#1e1e1e" stroke-width="0.1" textLength="4.29" lengthAdjust="spacingAndGlyphs" >0</text>
<text x="427.10" y="691.25" font-size="8.2" text-anchor="middle" fill="#1e1e1e" stroke="#1e1e1e" stroke-width="0.1" textLength="4.29" lengthAdjust="spacingAndGlyphs" >0</text>
<text x="476.70" y="691.25" font-size="8.2" text-anchor="middle" fill="#1e1e1e" stroke="#1e1e1e" stroke-width="0.1" textLength="4.29" lengthAdjust="spacingAndGlyphs" >0</text>
</svg></body></html>
